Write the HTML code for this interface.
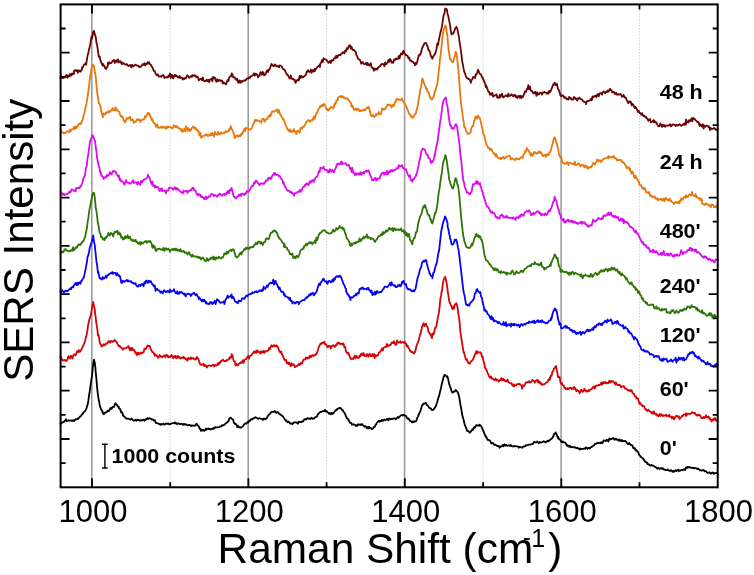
<!DOCTYPE html>
<html><head><meta charset="utf-8"><title>SERS Intensity vs Raman Shift</title>
<style>html,body{margin:0;padding:0;background:#fff}svg{display:block}</style></head>
<body>
<svg width="754" height="575" viewBox="0 0 754 575">
<rect width="754" height="575" fill="#fff"/>
<line x1="91.8" y1="4.4" x2="91.8" y2="487.3" stroke="#9c9c9c" stroke-width="1.6"/>
<line x1="248.2" y1="4.4" x2="248.2" y2="487.3" stroke="#9c9c9c" stroke-width="1.6"/>
<line x1="404.6" y1="4.4" x2="404.6" y2="487.3" stroke="#9c9c9c" stroke-width="1.6"/>
<line x1="561.1" y1="4.4" x2="561.1" y2="487.3" stroke="#9c9c9c" stroke-width="1.6"/>
<line x1="170.2" y1="4.4" x2="170.2" y2="487.3" stroke="#bcbcbc" stroke-width="1" stroke-dasharray="1 2"/>
<line x1="326.6" y1="4.4" x2="326.6" y2="487.3" stroke="#bcbcbc" stroke-width="1" stroke-dasharray="1 2"/>
<line x1="483.1" y1="4.4" x2="483.1" y2="487.3" stroke="#bcbcbc" stroke-width="1" stroke-dasharray="1 2"/>
<line x1="639.5" y1="4.4" x2="639.5" y2="487.3" stroke="#bcbcbc" stroke-width="1" stroke-dasharray="1 2"/>
<polyline fill="none" stroke="#000000" stroke-width="1.8" stroke-linejoin="round" stroke-linecap="round" points="60.4,423.6 61.2,423.9 62.0,422.5 62.8,422.4 63.6,422.2 64.4,421.1 65.2,420.5 66.0,419.3 66.0,420.3 66.8,421.3 67.6,420.8 68.4,420.2 69.2,420.7 70.0,420.5 70.8,420.7 71.6,420.4 72.4,420.9 73.0,420.2 74.0,421.2 74.8,420.1 75.6,419.1 76.4,419.5 77.2,419.0 78.0,418.9 78.0,418.4 78.8,418.0 79.6,417.2 80.4,416.3 81.2,415.8 82.0,414.3 82.8,413.5 83.0,413.7 83.6,412.4 84.4,411.8 85.2,410.8 86.0,409.4 86.8,407.6 87.0,405.7 87.6,405.0 88.4,400.4 89.2,394.3 89.6,392.5 90.0,389.4 90.8,383.7 91.6,378.4 92.0,375.8 92.4,371.8 93.2,363.4 94.0,359.7 94.0,360.2 94.8,362.8 95.6,369.8 95.6,371.0 96.4,378.9 97.2,388.5 97.6,392.1 98.0,395.1 98.8,400.1 99.6,404.4 100.4,407.8 100.4,407.5 101.2,409.8 102.0,410.5 102.8,412.9 103.6,414.3 103.6,412.7 104.4,413.7 105.2,412.5 106.0,412.4 106.8,412.0 107.6,410.8 108.0,411.3 108.4,410.6 109.2,410.8 110.0,408.9 110.8,407.7 111.6,408.9 112.4,407.0 113.0,406.8 114.0,406.9 114.8,404.5 115.6,403.3 116.0,403.9 116.4,404.3 117.2,405.3 118.0,406.7 118.8,406.9 119.0,408.4 119.6,408.4 120.4,409.8 121.2,412.6 122.0,412.3 122.8,414.2 123.0,415.6 123.6,415.8 124.4,416.8 125.2,417.2 126.0,418.4 126.8,418.8 127.6,418.5 128.4,418.7 129.0,419.0 130.0,419.6 130.8,419.5 131.6,418.5 132.4,419.5 133.2,420.2 134.0,420.7 134.8,420.5 135.6,419.8 136.0,420.3 136.4,420.8 137.2,419.7 138.0,420.2 138.8,419.9 139.6,420.5 140.4,420.5 141.2,419.9 142.0,420.5 142.8,420.0 143.6,419.7 144.0,420.4 144.4,420.7 145.2,419.6 146.0,419.1 146.8,419.3 147.6,418.0 148.4,418.4 148.6,418.9 149.2,418.1 150.0,418.5 150.8,418.7 151.6,419.6 152.4,419.3 153.0,419.5 154.0,420.8 154.8,420.1 155.6,422.5 156.4,423.2 157.2,423.2 158.0,423.3 158.8,423.8 159.0,424.2 159.6,424.0 160.4,424.8 161.2,423.9 162.0,424.6 162.8,424.1 163.6,423.5 164.4,424.6 165.2,424.4 166.0,423.7 166.8,423.5 167.6,423.8 168.0,423.8 168.4,423.5 169.2,424.3 170.0,424.1 170.8,423.8 171.6,423.5 172.4,423.2 173.2,423.2 174.0,423.3 174.8,422.5 175.6,422.7 176.0,423.5 176.4,423.1 177.2,424.1 178.0,423.4 178.8,423.4 179.6,424.0 180.4,424.1 181.2,423.8 182.0,423.8 182.8,424.9 183.6,424.0 184.0,424.0 184.4,424.6 185.2,424.2 186.0,424.3 186.8,425.0 187.6,425.4 188.4,424.9 189.2,425.2 190.0,424.9 190.8,426.1 191.6,425.7 192.0,425.2 192.4,425.7 193.2,425.7 194.0,425.6 194.8,425.8 195.6,425.1 196.4,423.7 197.0,424.4 198.0,425.8 198.8,426.2 199.6,428.8 200.4,428.7 201.0,430.9 202.0,429.7 202.8,430.6 203.6,429.8 204.4,430.9 205.2,429.5 206.0,429.8 206.0,428.5 206.8,429.5 207.6,428.9 208.4,428.4 209.2,429.2 210.0,428.9 210.8,429.5 211.6,429.1 212.4,428.5 213.2,428.8 214.0,428.5 214.0,427.6 214.8,427.9 215.6,427.2 216.4,427.3 217.2,427.3 218.0,427.3 218.8,427.1 219.6,426.8 220.4,426.4 221.2,426.4 222.0,425.2 222.0,425.2 222.8,425.6 223.6,424.9 224.4,424.9 225.2,423.9 226.0,423.1 226.8,422.9 227.0,422.5 227.6,422.0 228.4,421.2 229.2,418.9 230.0,417.9 230.8,417.7 231.0,417.8 231.6,418.7 232.4,419.2 233.2,420.0 234.0,423.1 234.8,423.4 235.0,424.1 235.6,424.0 236.4,424.4 237.2,427.1 238.0,425.6 238.8,427.1 239.6,427.4 240.0,427.1 240.4,427.7 241.2,427.6 242.0,426.9 242.8,426.4 243.6,425.3 244.4,424.1 245.2,423.4 246.0,423.7 246.0,423.3 246.8,423.4 247.6,422.0 248.4,422.5 249.2,420.7 250.0,420.9 250.8,419.3 251.6,419.1 252.4,419.5 253.2,418.4 254.0,418.0 254.8,417.6 255.0,417.6 255.6,417.1 256.4,417.9 257.2,418.1 258.0,418.9 258.8,418.5 259.6,418.2 260.4,418.5 261.2,418.8 262.0,418.8 262.8,419.9 263.6,418.8 264.0,419.3 264.4,418.4 265.2,418.9 266.0,419.0 266.8,418.1 267.6,416.3 268.4,415.2 269.2,414.6 270.0,413.9 270.0,413.7 270.8,412.7 271.6,411.9 272.4,411.9 273.2,411.9 274.0,411.9 274.8,410.9 275.0,411.6 275.6,411.8 276.4,412.9 277.2,412.3 278.0,412.1 278.8,413.5 279.6,413.8 280.4,414.6 281.0,415.0 282.0,415.7 282.8,416.3 283.6,417.5 284.4,418.7 285.2,419.8 286.0,421.0 286.0,420.1 286.8,421.3 287.6,422.3 288.4,421.5 289.2,422.2 290.0,423.5 290.8,423.4 291.6,423.7 292.0,423.4 292.4,424.1 293.2,423.0 294.0,422.7 294.8,422.2 295.6,422.3 296.4,422.3 297.2,423.0 298.0,422.5 298.0,423.8 298.8,421.7 299.6,421.9 300.4,421.9 301.2,422.2 302.0,421.5 302.8,421.6 303.6,420.6 304.4,419.3 305.2,419.1 306.0,419.5 306.0,418.9 306.8,418.9 307.6,418.0 308.4,418.6 309.2,418.6 310.0,419.1 310.8,418.2 311.6,417.7 312.4,418.9 313.2,418.6 314.0,418.5 314.8,417.8 315.0,417.4 315.6,417.0 316.4,416.8 317.2,416.1 318.0,414.0 318.8,413.5 319.6,412.4 320.4,412.0 321.0,412.0 322.0,411.5 322.8,411.0 323.6,411.1 324.4,411.2 325.0,409.9 326.0,411.6 326.8,411.1 327.6,412.4 328.4,412.8 329.2,413.9 330.0,413.0 330.8,414.3 331.0,413.6 331.6,412.9 332.4,414.0 333.2,413.2 334.0,412.5 334.8,411.1 335.6,410.5 336.0,410.5 336.4,409.4 337.2,409.7 338.0,408.5 338.8,408.2 339.6,408.1 340.0,407.9 340.4,407.8 341.2,408.7 342.0,409.9 342.8,410.2 343.6,411.8 344.0,412.2 344.4,412.7 345.2,414.1 346.0,416.4 346.8,418.3 347.6,418.5 348.0,419.2 348.4,419.6 349.2,421.3 350.0,422.7 350.8,423.0 351.6,423.1 352.0,424.8 352.4,424.3 353.2,424.5 354.0,424.5 354.8,424.6 355.6,425.9 356.0,425.1 356.4,425.3 357.2,426.0 358.0,424.3 358.8,424.9 359.6,424.5 360.4,424.4 361.0,425.1 362.0,424.0 362.8,425.1 363.6,425.8 364.4,426.6 365.2,426.2 366.0,426.5 366.8,428.2 367.6,428.3 368.0,426.9 368.4,428.5 369.2,426.9 370.0,428.3 370.8,427.9 371.6,429.1 372.4,428.8 373.2,428.2 374.0,426.9 374.0,426.8 374.8,426.8 375.6,424.7 376.4,424.0 377.0,422.6 378.0,421.8 378.8,420.7 379.6,421.7 380.4,421.0 381.2,421.1 382.0,420.8 382.0,419.9 382.8,420.3 383.6,420.6 384.4,419.5 385.2,420.1 386.0,419.9 386.8,419.3 387.6,418.7 388.4,420.2 389.2,418.5 390.0,419.3 390.0,419.4 390.8,418.9 391.6,419.0 392.4,418.9 393.2,418.6 394.0,418.5 394.8,418.3 395.6,419.3 396.4,418.7 397.2,417.5 398.0,417.0 398.0,417.8 398.8,417.8 399.6,416.6 400.4,415.9 401.2,415.2 402.0,414.8 402.8,415.6 403.6,414.8 403.6,414.8 404.4,415.0 405.2,415.9 406.0,415.9 406.8,418.0 407.6,418.2 408.0,418.9 408.4,418.5 409.2,419.5 410.0,421.0 410.8,421.1 411.6,421.8 412.0,422.4 412.4,421.5 413.2,422.1 414.0,421.3 414.8,421.8 415.6,421.3 415.6,421.4 416.4,421.0 417.2,417.9 418.0,416.6 418.8,414.0 419.0,414.4 419.6,412.5 420.4,411.4 421.2,408.3 422.0,405.5 422.6,405.1 423.6,403.5 424.4,403.7 425.2,403.2 425.6,403.0 426.0,403.0 426.8,404.9 427.6,405.5 428.4,406.3 429.0,407.6 430.0,408.1 430.8,408.4 431.6,409.9 432.4,410.1 433.0,409.9 434.0,409.0 434.8,407.9 435.6,406.5 436.0,405.8 436.4,404.3 437.2,402.2 438.0,398.9 438.8,396.3 439.0,396.6 439.6,393.7 440.4,390.3 441.2,386.9 442.0,383.1 442.0,383.2 442.8,380.2 443.6,377.0 444.4,375.3 444.4,374.8 445.2,375.3 446.0,375.8 446.8,377.0 447.2,376.3 447.6,377.0 448.4,380.1 449.2,384.3 449.6,384.9 450.0,386.3 450.8,388.6 451.6,391.3 452.4,392.5 452.4,392.7 453.2,392.1 454.0,391.5 454.8,391.5 455.6,389.9 455.6,390.6 456.4,390.6 457.2,391.5 458.0,392.9 458.0,392.9 458.8,395.2 459.6,399.4 460.4,404.9 460.4,404.6 461.2,408.3 462.0,413.8 462.8,417.1 463.6,420.1 463.6,419.8 464.4,423.4 465.2,425.9 466.0,427.7 466.8,429.9 467.0,430.8 467.6,430.6 468.4,431.2 469.2,432.1 469.6,432.7 470.0,432.7 470.8,431.5 471.6,430.6 472.4,429.3 473.0,429.8 474.0,427.2 474.8,427.7 475.6,426.4 476.0,426.0 476.4,425.0 477.2,425.4 478.0,425.6 478.8,425.5 479.6,424.7 479.6,425.8 480.4,425.3 481.2,426.1 482.0,427.9 482.4,428.9 482.8,430.0 483.6,431.4 484.4,433.6 485.2,435.4 486.0,437.2 486.0,436.1 486.8,438.0 487.6,439.9 488.4,439.8 489.2,440.4 490.0,440.7 490.8,442.3 491.0,443.1 491.6,443.5 492.4,442.9 493.2,443.1 494.0,444.7 494.8,445.0 495.6,444.6 496.4,445.4 497.2,446.2 498.0,446.0 498.8,446.0 499.0,446.7 499.6,447.7 500.4,446.6 501.2,446.3 502.0,446.3 502.8,445.0 503.6,446.2 504.4,444.3 505.2,445.3 506.0,445.6 506.0,444.8 506.8,445.7 507.6,445.8 508.4,445.3 509.2,445.3 510.0,445.9 510.8,444.9 511.6,446.2 512.4,446.3 513.2,446.3 514.0,446.0 514.0,446.5 514.8,446.2 515.6,446.1 516.4,446.4 517.2,446.4 518.0,446.4 518.8,447.7 519.6,446.9 520.4,447.1 521.0,447.2 522.0,447.8 522.8,447.0 523.6,446.5 524.4,446.5 525.2,446.1 526.0,445.1 526.8,445.3 527.6,445.0 528.4,444.8 529.0,444.6 530.0,444.6 530.8,444.4 531.6,444.1 532.4,444.1 533.2,443.6 534.0,441.9 534.8,442.0 535.6,442.3 536.4,442.5 537.2,441.4 538.0,442.5 538.0,442.1 538.8,443.2 539.6,441.9 540.4,442.6 541.2,442.4 542.0,442.2 542.8,441.9 543.6,441.2 544.4,441.6 545.2,442.4 546.0,442.2 546.0,441.8 546.8,441.6 547.6,440.6 548.4,441.3 549.2,440.4 550.0,440.0 550.8,439.2 551.6,438.8 552.0,438.3 552.4,437.7 553.2,436.6 554.0,434.2 554.8,433.9 555.6,432.4 555.6,432.9 556.4,433.4 557.2,436.0 558.0,438.2 558.0,436.7 558.8,438.6 559.6,439.6 560.4,440.1 561.2,441.5 562.0,442.2 562.8,441.5 563.0,441.7 563.6,442.4 564.4,442.4 565.2,442.7 566.0,443.6 566.8,445.6 567.6,445.0 568.4,446.6 569.2,446.4 570.0,445.7 570.0,446.6 570.8,447.3 571.6,447.1 572.4,446.7 573.2,447.3 574.0,447.5 574.8,447.2 575.6,447.6 576.4,448.2 577.2,447.6 578.0,448.4 578.8,448.7 579.6,449.5 580.0,448.4 580.4,449.3 581.2,449.2 582.0,448.9 582.8,448.9 583.6,448.9 584.4,448.3 585.2,448.9 586.0,447.4 586.8,447.9 587.6,448.8 588.4,448.0 589.2,447.9 590.0,448.6 590.0,447.9 590.8,447.2 591.6,447.1 592.4,446.1 593.2,445.8 594.0,445.3 594.8,443.8 595.6,443.9 596.4,443.4 597.2,442.9 598.0,443.3 598.0,443.3 598.8,442.8 599.6,442.8 600.4,443.2 601.2,442.1 602.0,443.2 602.8,442.7 603.6,440.3 604.4,440.6 605.2,441.0 606.0,441.0 606.0,440.5 606.8,439.8 607.6,440.3 608.4,441.5 609.2,438.6 610.0,439.5 610.8,438.9 611.6,439.2 612.4,438.4 613.2,438.0 614.0,438.5 614.0,439.3 614.8,439.8 615.6,438.8 616.4,439.5 617.2,439.5 618.0,439.6 618.8,440.7 619.6,439.5 620.4,440.7 621.2,441.1 622.0,439.9 622.0,441.0 622.8,441.4 623.6,441.0 624.4,441.1 625.2,440.9 626.0,441.4 626.8,442.7 627.6,443.9 628.4,444.2 629.2,443.0 630.0,444.3 630.0,444.0 630.8,444.9 631.6,445.3 632.4,445.3 633.2,448.0 634.0,448.4 634.8,447.9 635.6,450.5 636.0,450.6 636.4,450.1 637.2,451.2 638.0,451.9 638.8,453.8 639.6,455.6 640.4,456.0 641.2,457.3 642.0,457.7 642.0,457.7 642.8,458.3 643.6,459.4 644.4,460.4 645.2,461.7 646.0,462.3 646.8,462.4 647.6,464.1 648.0,463.8 648.4,464.3 649.2,464.6 650.0,465.5 650.8,465.5 651.6,464.9 652.4,465.7 653.2,465.6 654.0,466.3 654.8,466.9 655.6,467.1 656.0,467.2 656.4,467.8 657.2,468.8 658.0,467.8 658.8,468.3 659.6,468.9 660.4,468.4 661.2,468.0 662.0,468.9 662.8,468.2 663.6,469.5 664.0,469.4 664.4,469.5 665.2,470.0 666.0,470.1 666.8,470.2 667.6,469.5 668.4,470.3 669.2,470.6 670.0,471.0 670.8,470.2 671.6,470.4 672.4,471.7 673.2,471.1 674.0,471.8 674.0,471.0 674.8,471.1 675.6,470.2 676.4,471.1 677.2,470.4 678.0,469.7 678.8,471.2 679.6,470.3 680.4,470.7 681.2,469.9 682.0,470.1 682.0,470.0 682.8,470.0 683.6,469.4 684.4,469.5 685.2,470.0 686.0,467.3 686.8,467.8 687.6,467.0 688.0,467.8 688.4,467.2 689.2,467.0 690.0,467.2 690.8,467.9 691.6,467.9 692.4,467.7 693.2,467.9 694.0,468.4 694.0,468.0 694.8,468.1 695.6,468.1 696.4,468.3 697.2,469.1 698.0,468.6 698.8,469.1 699.6,470.1 700.0,470.4 700.4,470.2 701.2,470.5 702.0,470.6 702.8,470.1 703.6,470.0 704.4,471.3 705.2,471.0 706.0,471.2 706.0,471.1 706.8,472.4 707.6,473.0 708.4,472.5 709.2,472.3 710.0,472.8 710.8,473.7 711.6,473.1 712.4,472.5 713.2,472.9 714.0,473.9 714.8,473.0 715.6,473.2 716.4,472.8 717.2,473.2 717.6,473.8"/>
<polyline fill="none" stroke="#d60306" stroke-width="1.8" stroke-linejoin="round" stroke-linecap="round" points="60.4,356.3 61.2,358.5 62.0,359.4 62.8,360.6 63.6,360.3 64.4,360.2 65.0,359.9 66.0,361.1 66.8,360.6 67.6,359.2 68.4,356.2 69.2,358.1 70.0,358.6 70.0,357.8 70.8,355.8 71.6,356.4 72.4,358.5 73.2,355.7 74.0,354.2 74.8,354.9 75.6,355.5 76.0,354.3 76.4,352.9 77.2,351.2 78.0,352.3 78.8,350.1 79.6,351.9 80.4,351.4 81.0,350.1 82.0,348.1 82.8,346.5 83.6,344.8 84.4,342.8 85.0,341.2 86.0,337.1 86.8,334.2 87.6,329.3 88.0,325.6 88.4,324.1 89.2,320.1 90.0,317.4 90.8,315.2 91.0,314.0 91.6,310.7 92.4,305.5 93.2,303.4 93.2,302.0 94.0,306.0 94.8,309.4 95.2,313.8 95.6,316.8 96.4,323.7 97.2,328.4 98.0,335.7 98.0,333.9 98.8,336.1 99.6,341.5 100.4,344.3 101.2,344.7 101.6,346.7 102.0,346.2 102.8,345.8 103.6,344.1 104.4,345.3 105.2,344.5 106.0,344.1 106.0,343.4 106.8,343.6 107.6,343.2 108.4,341.1 109.2,341.2 110.0,342.7 110.8,341.3 111.0,341.4 111.6,341.0 112.4,341.8 113.2,341.6 114.0,340.6 114.8,339.8 115.0,340.9 115.6,341.4 116.4,341.4 117.2,343.3 118.0,344.7 118.8,346.1 119.0,345.7 119.6,345.8 120.4,347.2 121.2,347.4 122.0,348.3 122.8,349.7 123.0,349.2 123.6,348.3 124.4,348.4 125.2,348.3 126.0,348.1 126.8,347.3 127.6,347.2 128.4,346.1 129.2,348.4 130.0,350.4 130.8,348.1 131.6,349.9 132.0,347.8 132.4,348.1 133.2,350.2 134.0,349.6 134.8,351.2 135.6,353.5 136.0,352.6 136.4,353.6 137.2,355.3 138.0,352.5 138.8,354.1 139.6,354.3 140.4,352.4 141.0,352.4 142.0,353.2 142.8,352.5 143.6,352.3 144.4,348.7 145.0,349.2 146.0,348.8 146.8,347.1 147.6,345.4 148.0,346.2 148.4,346.1 149.2,345.8 150.0,346.4 150.8,349.3 151.0,349.4 151.6,350.6 152.4,352.1 153.2,352.1 154.0,353.4 154.8,355.9 155.0,354.5 155.6,354.5 156.4,355.1 157.2,356.5 158.0,357.7 158.8,356.9 159.6,355.0 160.4,356.6 161.0,356.1 162.0,357.3 162.8,356.6 163.6,356.0 164.4,355.5 165.2,357.2 166.0,354.8 166.8,355.8 167.6,355.2 168.0,357.0 168.4,357.4 169.2,356.6 170.0,357.0 170.8,356.3 171.6,355.0 172.4,356.5 173.2,358.2 174.0,356.2 174.8,357.5 175.6,355.7 176.0,357.5 176.4,358.2 177.2,357.5 178.0,355.9 178.8,357.7 179.6,357.1 180.4,358.6 181.2,358.0 182.0,357.6 182.8,357.9 183.6,356.7 184.0,357.4 184.4,358.3 185.2,358.1 186.0,359.6 186.8,358.8 187.6,360.5 188.4,357.9 189.2,358.6 190.0,359.0 190.8,357.5 191.6,358.9 192.0,358.1 192.4,358.2 193.2,358.2 194.0,359.0 194.8,359.6 195.6,358.4 196.4,359.1 197.0,357.0 198.0,358.4 198.8,359.9 199.6,363.2 200.4,364.6 201.0,364.1 202.0,365.0 202.8,364.8 203.6,363.8 204.4,366.2 205.2,365.1 206.0,365.9 206.0,366.3 206.8,367.5 207.6,366.0 208.4,365.7 209.2,365.3 210.0,365.5 210.8,366.1 211.6,365.6 212.4,365.3 213.2,364.6 214.0,365.1 214.0,366.5 214.8,365.8 215.6,365.0 216.4,365.6 217.2,365.1 218.0,363.0 218.8,364.5 219.6,362.3 220.4,362.7 221.0,360.8 222.0,360.8 222.8,359.6 223.6,360.6 224.4,361.3 225.2,360.8 226.0,361.1 226.8,360.0 227.0,360.6 227.6,360.1 228.4,359.4 229.2,358.9 230.0,356.9 230.8,357.9 231.6,356.9 231.6,354.1 232.4,355.2 233.2,359.0 234.0,361.1 234.8,361.6 235.6,365.5 236.4,363.7 237.0,365.0 238.0,365.6 238.8,363.9 239.6,363.0 240.4,363.2 241.2,362.0 242.0,362.7 242.8,360.2 243.0,362.2 243.6,362.9 244.4,360.3 245.2,359.3 246.0,359.2 246.8,357.9 247.6,356.6 248.4,356.0 249.0,358.7 250.0,355.8 250.8,355.6 251.6,354.8 252.4,353.9 253.2,353.0 254.0,351.5 254.8,352.6 255.0,352.7 255.6,351.1 256.4,352.6 257.2,350.3 258.0,352.1 258.8,351.4 259.6,351.9 260.4,353.6 261.2,351.3 262.0,352.4 262.8,352.5 263.6,350.7 264.0,351.8 264.4,352.9 265.2,351.1 266.0,351.3 266.8,351.4 267.6,350.6 268.4,350.4 269.2,347.8 270.0,349.2 270.0,348.1 270.8,346.6 271.6,345.3 272.4,346.8 273.2,345.9 274.0,345.1 274.8,346.3 275.0,346.3 275.6,346.4 276.4,345.3 277.2,346.4 278.0,347.2 278.8,349.5 279.6,351.7 280.0,352.0 280.4,352.6 281.2,351.5 282.0,354.5 282.8,355.6 283.6,357.9 284.4,359.5 285.0,360.4 286.0,359.7 286.8,363.2 287.6,362.5 288.4,364.1 289.2,362.5 290.0,364.6 290.0,364.6 290.8,366.2 291.6,363.2 292.4,365.0 293.2,364.4 294.0,364.5 294.8,367.2 295.0,366.2 295.6,366.7 296.4,366.5 297.2,365.8 298.0,365.3 298.8,363.8 299.6,365.0 300.4,364.1 301.0,362.8 302.0,363.6 302.8,361.3 303.6,359.5 304.4,359.7 305.2,359.5 306.0,357.4 306.8,358.6 307.6,358.5 308.0,357.3 308.4,358.1 309.2,358.1 310.0,355.6 310.8,357.2 311.6,355.8 312.4,355.2 313.2,356.1 314.0,355.2 314.8,355.5 315.6,354.4 316.0,353.6 316.4,354.3 317.2,352.0 318.0,350.0 318.8,346.9 319.6,345.5 320.4,343.6 321.0,344.1 322.0,342.6 322.8,343.4 323.6,342.5 324.4,341.7 325.0,344.2 326.0,344.3 326.8,345.7 327.6,347.5 328.4,345.9 328.4,346.3 329.2,346.0 330.0,346.0 330.8,348.5 331.6,346.1 332.4,346.2 333.2,345.2 334.0,345.9 334.0,345.6 334.8,347.0 335.6,345.1 336.4,345.3 337.2,343.3 338.0,342.9 338.0,342.4 338.8,343.6 339.6,343.1 340.4,344.4 341.2,344.0 342.0,343.6 342.8,343.4 343.0,344.9 343.6,343.8 344.4,347.2 345.2,347.0 346.0,351.7 346.8,352.6 347.0,352.5 347.6,353.7 348.4,352.8 349.2,355.1 350.0,357.3 350.8,359.0 351.6,358.7 352.0,358.8 352.4,358.6 353.2,359.1 354.0,357.3 354.8,355.7 355.6,358.3 356.0,357.6 356.4,355.8 357.2,357.1 358.0,357.9 358.8,358.0 359.6,355.6 360.4,356.3 361.2,353.7 362.0,354.9 362.8,355.1 363.0,353.4 363.6,353.1 364.4,356.1 365.2,355.3 366.0,356.3 366.8,354.2 367.6,354.2 368.4,356.7 369.2,355.0 370.0,353.8 370.0,355.3 370.8,356.1 371.6,356.2 372.4,354.0 373.2,356.3 374.0,354.2 374.8,358.0 375.0,354.9 375.6,355.6 376.4,356.1 377.2,355.2 378.0,355.5 378.8,352.7 379.6,352.4 380.4,351.4 381.0,350.8 382.0,348.5 382.8,350.4 383.6,347.7 384.4,347.1 385.2,347.2 386.0,347.0 386.8,343.9 387.6,345.4 388.0,346.5 388.4,345.5 389.2,345.2 390.0,345.4 390.8,344.6 391.6,342.6 392.4,342.3 393.2,343.3 394.0,341.2 394.8,343.4 395.6,345.2 396.0,343.1 396.4,344.2 397.2,340.5 398.0,342.4 398.8,342.4 399.6,342.4 400.4,341.2 401.2,342.9 402.0,342.1 402.8,342.2 403.6,342.5 404.0,343.0 404.4,341.7 405.2,343.0 406.0,343.7 406.8,346.4 407.6,346.7 407.6,345.5 408.4,347.8 409.2,348.4 410.0,350.9 410.8,351.1 411.0,351.8 411.6,352.1 412.4,351.8 413.2,353.1 414.0,353.2 414.0,353.3 414.8,352.4 415.6,350.1 416.4,346.3 417.0,344.4 418.0,342.4 418.8,340.1 419.6,336.7 420.0,334.2 420.4,333.9 421.2,331.1 422.0,326.9 422.8,325.2 423.6,323.1 423.6,324.8 424.4,326.1 425.2,324.4 426.0,323.6 426.4,325.2 426.8,326.3 427.6,327.2 428.4,331.5 429.0,332.6 430.0,333.8 430.8,335.1 431.6,337.3 432.0,338.1 432.4,333.4 433.2,334.7 434.0,333.4 434.8,328.9 435.6,327.1 435.6,327.9 436.4,325.5 437.2,321.8 438.0,316.2 438.4,315.2 438.8,313.1 439.6,306.8 440.4,298.5 441.2,295.2 441.6,291.3 442.0,291.4 442.8,284.2 443.6,279.7 444.4,278.1 445.2,277.9 445.2,276.6 446.0,280.2 446.8,284.0 447.6,289.9 447.6,290.6 448.4,295.3 449.2,301.0 450.0,303.3 450.0,302.8 450.8,305.3 451.6,306.2 452.4,309.2 452.4,307.5 453.2,307.0 454.0,308.6 454.8,304.3 455.6,304.4 456.0,303.7 456.4,303.3 457.2,305.9 458.0,310.8 458.4,314.2 458.8,316.2 459.6,322.3 460.4,332.1 461.0,335.8 462.0,342.3 462.8,347.3 463.6,352.7 464.0,352.0 464.4,354.1 465.2,357.3 466.0,359.6 466.8,359.0 467.0,360.6 467.6,361.3 468.4,363.1 469.2,363.5 470.0,363.6 470.0,363.1 470.8,361.5 471.6,361.0 472.4,360.1 473.0,359.4 474.0,357.2 474.8,354.5 475.6,353.1 476.4,351.2 477.0,353.7 478.0,351.7 478.8,352.3 479.6,352.5 480.4,352.8 480.4,352.2 481.2,353.2 482.0,357.0 482.8,357.0 483.0,359.6 483.6,361.1 484.4,364.3 485.2,368.2 486.0,368.9 486.0,369.4 486.8,370.5 487.6,373.1 488.4,374.4 489.2,376.6 490.0,377.8 490.8,377.0 491.0,376.4 491.6,378.5 492.4,378.4 493.2,379.3 494.0,379.8 494.8,380.2 495.6,378.4 496.4,380.2 497.2,379.8 498.0,380.3 498.0,380.1 498.8,381.7 499.6,380.1 500.4,380.3 501.2,378.2 502.0,380.3 502.8,378.5 503.6,380.2 504.4,379.8 505.2,381.2 506.0,380.8 506.0,381.3 506.8,381.5 507.6,379.6 508.4,382.1 509.2,382.8 510.0,383.3 510.8,383.4 511.6,383.2 512.4,385.6 513.2,386.1 514.0,386.4 514.0,384.3 514.8,385.3 515.6,385.4 516.4,385.2 517.2,384.1 518.0,384.1 518.8,383.7 519.6,384.5 520.4,384.3 521.2,385.6 522.0,386.3 522.0,388.8 522.8,385.2 523.6,386.2 524.4,385.5 525.2,383.7 526.0,382.4 526.8,382.2 527.6,382.6 528.4,382.1 529.2,381.2 530.0,382.6 530.0,382.1 530.8,382.2 531.6,381.3 532.4,379.9 533.2,380.5 534.0,381.2 534.8,382.7 535.6,380.9 536.4,380.6 537.2,380.0 538.0,382.4 538.0,380.2 538.8,382.7 539.6,381.4 540.4,383.7 541.2,383.1 542.0,385.0 542.8,384.3 543.6,384.3 544.0,384.5 544.4,384.0 545.2,383.9 546.0,382.6 546.8,382.2 547.6,381.8 548.4,379.8 549.2,380.1 550.0,377.2 550.0,379.5 550.8,375.7 551.6,375.7 552.4,371.8 553.2,371.1 554.0,368.3 554.0,368.6 554.8,368.3 555.6,366.2 556.0,366.0 556.4,367.4 557.2,372.2 558.0,376.9 558.0,377.1 558.8,377.3 559.6,377.0 560.4,382.0 561.2,383.7 562.0,383.0 562.0,384.1 562.8,385.4 563.6,385.3 564.4,388.0 565.2,387.6 566.0,389.1 566.8,388.7 567.6,388.1 568.0,389.1 568.4,388.6 569.2,388.5 570.0,387.7 570.8,387.7 571.6,389.1 572.4,388.2 573.2,388.8 574.0,388.8 574.0,387.0 574.8,387.8 575.6,389.2 576.4,391.1 577.2,390.0 578.0,390.9 578.8,390.9 579.0,391.6 579.6,393.2 580.4,392.2 581.2,389.7 582.0,390.4 582.8,391.9 583.6,391.3 584.4,388.9 585.2,390.4 586.0,390.5 586.0,391.5 586.8,391.3 587.6,391.5 588.4,390.1 589.2,391.0 590.0,389.7 590.8,389.3 591.6,389.3 592.4,388.0 593.2,386.9 594.0,386.4 594.0,387.1 594.8,388.7 595.6,385.9 596.4,385.6 597.2,385.7 598.0,385.3 598.8,384.8 599.6,385.3 600.4,384.7 601.2,382.8 602.0,384.6 602.0,382.5 602.8,383.7 603.6,382.0 604.4,383.1 605.2,382.0 606.0,383.2 606.8,382.7 607.6,383.3 608.4,383.0 609.2,380.9 610.0,382.5 610.0,381.0 610.8,382.4 611.6,381.0 612.4,381.6 613.2,381.3 614.0,382.5 614.8,383.2 615.6,384.7 616.0,382.5 616.4,383.6 617.2,384.6 618.0,385.2 618.8,384.9 619.6,385.0 620.4,385.3 621.2,387.3 622.0,386.6 622.8,386.4 623.6,386.0 624.0,386.5 624.4,387.3 625.2,388.7 626.0,388.7 626.8,389.3 627.6,390.3 628.4,390.0 629.2,390.9 630.0,390.4 630.0,390.2 630.8,391.1 631.6,390.2 632.4,392.7 633.2,393.7 634.0,393.8 634.8,396.3 635.6,396.5 636.0,396.4 636.4,398.5 637.2,398.1 638.0,398.8 638.8,401.6 639.6,404.1 640.0,402.7 640.4,404.3 641.2,404.3 642.0,405.5 642.8,406.3 643.6,405.9 644.4,407.0 645.2,408.9 646.0,410.0 646.8,409.5 647.0,410.3 647.6,411.1 648.4,409.8 649.2,410.6 650.0,411.5 650.8,411.8 651.6,413.2 652.4,412.1 653.2,413.8 654.0,411.4 654.0,413.1 654.8,413.1 655.6,414.6 656.4,413.8 657.2,415.6 658.0,415.5 658.8,416.2 659.6,414.2 660.4,415.9 661.2,414.1 662.0,415.0 662.0,415.1 662.8,416.1 663.6,415.2 664.4,415.6 665.2,415.6 666.0,414.7 666.8,416.1 667.6,415.6 668.4,416.4 669.2,414.8 670.0,416.8 670.8,416.5 671.6,417.0 672.0,418.5 672.4,417.1 673.2,417.0 674.0,419.5 674.8,417.6 675.6,416.6 676.4,415.7 677.2,416.1 678.0,416.8 678.8,416.3 679.6,419.0 680.0,418.6 680.4,418.0 681.2,417.0 682.0,415.8 682.8,416.2 683.6,414.6 684.4,414.6 685.2,414.3 686.0,413.2 686.0,416.0 686.8,415.0 687.6,413.8 688.4,413.7 689.2,413.9 690.0,414.0 690.8,413.6 691.6,413.0 692.0,412.1 692.4,412.5 693.2,412.8 694.0,413.4 694.8,412.9 695.6,414.0 696.4,415.2 697.2,415.7 698.0,415.5 698.0,414.6 698.8,414.7 699.6,415.4 700.4,415.4 701.2,417.9 702.0,418.2 702.8,418.2 703.6,417.0 704.0,417.0 704.4,418.1 705.2,417.6 706.0,415.2 706.8,417.3 707.6,417.1 708.4,416.4 709.2,418.6 710.0,418.3 710.0,419.2 710.8,419.7 711.6,421.5 712.4,419.8 713.2,419.2 714.0,420.2 714.8,417.8 715.6,419.5 716.4,420.6 717.2,419.6 717.6,421.5"/>
<polyline fill="none" stroke="#0505f2" stroke-width="1.8" stroke-linejoin="round" stroke-linecap="round" points="60.4,291.9 61.2,292.1 62.0,290.2 62.8,291.1 63.6,292.3 64.4,292.1 65.2,290.8 66.0,290.5 66.0,290.3 66.8,291.3 67.6,291.1 68.4,290.6 69.2,289.2 70.0,289.2 70.8,287.9 71.0,289.2 71.6,287.8 72.4,286.7 73.2,287.2 74.0,285.2 74.8,284.1 75.6,282.9 76.0,283.7 76.4,285.1 77.2,282.7 78.0,284.9 78.8,282.6 79.6,282.4 80.4,283.7 81.0,281.3 82.0,280.5 82.8,278.6 83.6,278.0 84.4,275.0 85.0,272.1 86.0,267.1 86.8,262.6 87.6,256.7 88.0,256.1 88.4,254.9 89.2,251.2 90.0,246.4 90.8,245.6 91.0,243.5 91.6,242.6 92.4,238.8 93.2,237.0 93.2,235.4 94.0,241.7 94.8,245.4 95.2,249.5 95.6,253.1 96.4,260.9 97.2,266.0 98.0,273.2 98.0,271.0 98.8,274.0 99.6,278.4 100.4,278.1 101.2,279.3 102.0,278.4 102.0,279.6 102.8,277.0 103.6,278.7 104.4,278.5 105.2,277.3 106.0,275.6 106.8,277.6 107.0,275.7 107.6,275.1 108.4,275.1 109.2,273.8 110.0,273.7 110.8,272.9 111.6,273.4 112.4,272.0 113.2,273.8 114.0,272.8 114.8,272.9 115.0,273.4 115.6,272.9 116.4,275.5 117.2,273.2 118.0,275.0 118.8,276.0 119.0,275.3 119.6,275.6 120.4,278.0 121.2,282.5 122.0,282.4 122.0,283.0 122.8,280.7 123.6,281.4 124.4,281.8 125.2,280.9 126.0,280.8 126.8,279.8 127.6,281.3 128.4,280.4 129.0,281.4 130.0,281.6 130.8,281.1 131.6,282.2 132.4,283.0 133.2,282.7 134.0,283.8 134.8,283.6 135.6,283.2 136.0,284.9 136.4,285.3 137.2,286.4 138.0,286.7 138.8,285.1 139.6,284.8 140.4,286.1 141.2,284.6 142.0,283.9 142.0,283.9 142.8,284.8 143.6,286.2 144.4,282.1 145.2,283.4 146.0,280.9 146.0,281.2 146.8,280.5 147.6,282.9 148.4,282.6 149.0,280.6 150.0,282.1 150.8,281.1 151.6,282.9 152.4,284.5 153.0,284.5 154.0,286.6 154.8,285.4 155.6,290.8 156.4,289.5 157.0,288.7 158.0,290.4 158.8,290.3 159.6,290.9 160.4,292.6 161.2,291.5 162.0,292.6 162.0,292.6 162.8,293.3 163.6,290.7 164.4,290.4 165.2,291.4 166.0,292.2 166.8,292.0 167.6,290.7 168.4,291.2 169.2,292.5 170.0,291.9 170.0,289.3 170.8,291.4 171.6,291.5 172.4,291.1 173.2,290.7 174.0,289.3 174.8,291.6 175.6,292.9 176.4,293.4 177.2,291.3 178.0,293.9 178.0,293.6 178.8,293.8 179.6,291.9 180.4,292.8 181.2,292.0 182.0,292.5 182.8,293.2 183.6,294.2 184.4,293.4 185.2,295.6 186.0,296.3 186.0,294.4 186.8,294.3 187.6,293.8 188.4,293.7 189.2,294.1 190.0,294.2 190.8,296.0 191.6,294.8 192.4,293.6 193.2,293.5 194.0,293.6 194.0,292.6 194.8,294.3 195.6,295.3 196.4,294.0 197.2,295.5 198.0,296.7 198.0,296.5 198.8,299.0 199.6,297.5 200.4,299.8 201.2,300.2 202.0,301.4 202.0,299.7 202.8,299.9 203.6,301.4 204.4,299.8 205.2,301.6 206.0,303.5 206.0,301.8 206.8,303.1 207.6,303.8 208.4,303.6 209.2,304.2 210.0,303.4 210.0,302.2 210.8,302.2 211.6,302.2 212.4,304.2 213.2,303.4 214.0,302.4 214.8,300.8 215.6,304.1 216.4,301.2 217.2,299.1 218.0,300.5 218.0,299.9 218.8,300.7 219.6,302.2 220.4,302.9 221.2,302.5 222.0,302.4 222.8,302.2 223.6,301.2 224.0,301.4 224.4,304.0 225.2,300.9 226.0,298.9 226.8,298.0 227.6,295.5 228.4,297.6 229.0,296.4 230.0,296.9 230.8,296.0 231.6,294.4 232.0,298.3 232.4,296.6 233.2,296.8 234.0,298.5 234.8,300.9 235.6,302.1 236.4,301.7 236.4,301.9 237.2,302.8 238.0,303.3 238.8,300.4 239.6,300.9 240.4,301.2 241.2,301.0 242.0,298.6 242.0,298.5 242.8,298.1 243.6,298.7 244.4,298.9 245.2,297.3 246.0,295.9 246.8,295.6 247.6,296.3 248.4,294.7 249.0,294.4 250.0,294.2 250.8,293.6 251.6,293.8 252.4,292.3 253.2,292.8 254.0,292.9 254.8,291.6 255.6,291.9 256.0,292.0 256.4,291.2 257.2,292.3 258.0,291.7 258.8,291.5 259.6,290.4 260.4,290.5 261.2,291.4 262.0,289.6 262.8,290.8 263.6,286.7 264.0,287.9 264.4,288.4 265.2,288.9 266.0,287.4 266.8,285.8 267.6,286.9 268.4,284.7 269.2,283.8 270.0,283.1 270.0,283.0 270.8,282.7 271.6,283.3 272.4,283.2 273.2,279.7 274.0,284.5 274.8,281.2 275.0,282.2 275.6,281.0 276.4,284.0 277.2,284.4 278.0,287.2 278.8,287.2 279.0,289.1 279.6,287.6 280.4,290.0 281.2,291.7 282.0,292.0 282.8,291.6 283.6,292.8 284.0,295.1 284.4,293.8 285.2,296.5 286.0,296.3 286.8,296.8 287.6,297.2 288.4,298.0 289.2,299.3 290.0,300.1 290.0,297.7 290.8,301.1 291.6,300.7 292.4,303.6 293.2,302.2 294.0,302.3 294.8,302.5 295.0,303.5 295.6,303.2 296.4,302.0 297.2,302.0 298.0,301.9 298.8,304.2 299.6,302.5 300.4,301.5 301.0,301.3 302.0,300.7 302.8,300.0 303.6,300.1 304.4,300.1 305.2,298.7 306.0,298.0 306.8,297.0 307.0,297.9 307.6,296.6 308.4,296.3 309.2,294.5 310.0,295.4 310.8,293.5 311.6,294.5 312.4,292.8 313.2,293.3 314.0,295.4 314.8,293.9 315.0,293.3 315.6,293.2 316.4,291.9 317.2,289.4 318.0,286.9 318.8,284.3 319.6,283.5 320.0,285.2 320.4,283.2 321.2,282.1 322.0,281.0 322.8,279.2 323.6,279.7 323.6,278.7 324.4,280.6 325.2,281.6 326.0,281.2 326.8,283.0 327.6,283.8 328.0,281.5 328.4,282.1 329.2,280.7 330.0,281.1 330.8,282.4 331.6,281.8 332.4,279.7 333.2,281.7 334.0,280.1 334.0,278.3 334.8,279.6 335.6,277.3 336.4,276.3 337.2,276.8 338.0,276.2 338.8,276.0 339.0,277.0 339.6,275.6 340.4,276.3 341.2,277.4 342.0,279.9 342.4,280.7 342.8,281.9 343.6,284.1 344.4,285.2 345.2,287.7 346.0,288.7 346.0,291.3 346.8,292.5 347.6,294.6 348.4,294.4 349.2,296.8 350.0,297.3 350.4,300.2 350.8,297.1 351.6,297.6 352.4,297.7 353.2,297.0 354.0,295.6 354.8,295.9 355.6,294.6 356.0,293.6 356.4,295.3 357.2,294.3 358.0,292.6 358.8,293.3 359.6,289.0 360.4,288.4 361.2,289.0 362.0,288.0 362.0,287.7 362.8,287.5 363.6,289.3 364.4,288.9 365.2,288.7 366.0,289.0 366.8,289.6 367.6,287.9 368.0,288.4 368.4,287.9 369.2,290.2 370.0,290.2 370.8,292.3 371.6,290.8 372.4,295.2 373.0,293.2 374.0,294.6 374.8,291.6 375.6,294.6 376.4,292.4 377.2,291.0 378.0,292.9 378.8,292.7 379.6,292.2 380.0,291.7 380.4,292.1 381.2,292.1 382.0,291.0 382.8,289.5 383.6,289.0 384.4,286.9 385.2,286.7 386.0,286.6 386.0,286.8 386.8,287.2 387.6,287.0 388.4,285.8 389.2,284.8 390.0,282.9 390.8,285.6 391.0,284.0 391.6,282.2 392.4,284.7 393.2,285.0 394.0,285.8 394.8,285.2 395.6,287.1 396.0,286.8 396.4,287.1 397.2,286.9 398.0,285.2 398.8,285.9 399.6,284.8 400.4,286.2 401.2,285.6 402.0,281.8 402.4,282.7 402.8,282.2 403.6,280.8 404.4,283.7 405.2,284.6 406.0,284.0 406.8,287.7 407.6,288.6 408.0,289.5 408.4,289.0 409.2,289.6 410.0,289.2 410.8,290.3 411.6,291.0 412.4,291.4 413.2,290.2 413.6,290.5 414.0,291.3 414.8,290.4 415.6,288.5 416.4,284.3 417.0,280.7 418.0,276.5 418.8,274.5 419.6,271.0 420.0,269.4 420.4,268.6 421.2,267.1 422.0,262.7 422.8,262.0 423.6,260.9 423.6,260.7 424.4,261.5 425.2,260.1 426.0,260.0 426.4,260.9 426.8,263.2 427.6,266.5 428.4,269.5 429.2,271.5 429.6,273.9 430.0,273.7 430.8,275.7 431.6,276.4 432.4,276.8 432.4,278.4 433.2,273.1 434.0,272.6 434.8,269.0 435.6,266.3 436.0,264.4 436.4,264.3 437.2,260.6 438.0,255.0 438.8,251.4 439.0,251.3 439.6,246.1 440.4,238.9 441.2,231.3 442.0,227.1 442.0,228.4 442.8,223.7 443.6,221.1 444.4,218.7 445.0,216.3 446.0,218.4 446.8,220.7 447.6,223.4 447.6,226.7 448.4,229.3 449.2,234.0 450.0,236.6 450.0,238.3 450.8,240.2 451.6,244.2 452.4,244.6 453.0,244.3 454.0,242.8 454.8,239.7 455.6,240.5 456.0,239.6 456.4,240.0 457.2,242.9 458.0,248.0 458.4,248.9 458.8,251.6 459.6,258.0 460.4,264.9 461.0,270.2 462.0,278.6 462.8,285.9 463.6,292.0 464.0,293.5 464.4,294.6 465.2,299.6 466.0,304.4 466.8,305.1 467.6,305.6 467.6,305.3 468.4,304.4 469.2,305.8 470.0,303.5 470.8,302.3 471.0,302.2 471.6,301.7 472.4,300.9 473.2,299.9 474.0,298.4 474.0,298.9 474.8,293.5 475.6,293.4 476.4,290.1 477.2,289.0 477.4,290.8 478.0,290.6 478.8,291.9 479.6,292.8 480.4,292.1 481.0,296.4 482.0,298.2 482.8,303.1 483.6,305.9 484.0,307.9 484.4,310.5 485.2,309.6 486.0,311.6 486.0,310.8 486.8,311.6 487.6,314.1 488.4,314.5 489.2,315.4 490.0,317.7 490.8,319.0 491.6,316.1 492.0,319.4 492.4,319.6 493.2,318.0 494.0,321.5 494.8,320.5 495.6,320.8 496.4,321.3 497.2,322.0 498.0,323.3 498.8,322.4 499.0,321.8 499.6,322.9 500.4,323.6 501.2,324.4 502.0,324.7 502.8,324.7 503.6,322.0 504.4,325.2 505.2,324.5 506.0,322.3 506.0,325.5 506.8,326.2 507.6,325.4 508.4,324.1 509.2,325.0 510.0,324.3 510.8,326.6 511.6,323.5 512.4,325.0 513.2,325.0 514.0,325.2 514.0,323.6 514.8,325.3 515.6,324.3 516.4,324.7 517.2,325.6 518.0,324.8 518.8,324.7 519.6,327.1 520.4,325.5 521.2,324.0 522.0,324.6 522.8,325.6 523.0,324.4 523.6,324.4 524.4,324.1 525.2,324.5 526.0,323.7 526.8,323.0 527.6,322.8 528.4,323.1 529.0,321.5 530.0,322.4 530.8,322.7 531.6,321.8 532.4,321.2 533.2,322.7 534.0,320.6 534.8,323.1 535.6,322.2 536.4,321.5 537.2,320.6 538.0,321.8 538.0,320.2 538.8,322.0 539.6,321.8 540.4,320.8 541.2,322.3 542.0,320.2 542.8,321.4 543.6,322.4 544.4,322.1 545.2,323.0 546.0,323.4 546.0,323.2 546.8,322.6 547.6,323.1 548.4,321.6 549.2,320.6 550.0,320.4 550.8,320.4 551.0,317.9 551.6,318.7 552.4,314.5 553.2,311.7 554.0,310.3 554.8,308.6 555.0,308.5 555.6,310.4 556.4,310.0 557.2,313.9 558.0,318.5 558.0,318.7 558.8,321.4 559.6,324.8 560.4,323.3 561.2,328.3 561.6,328.2 562.0,328.3 562.8,328.0 563.6,327.5 564.4,326.6 565.2,325.8 566.0,326.6 566.0,327.9 566.8,326.2 567.6,327.8 568.4,328.0 569.2,328.0 570.0,329.6 570.8,330.4 571.6,329.6 572.4,331.7 573.2,330.8 574.0,330.9 574.0,332.1 574.8,331.3 575.6,333.1 576.4,334.1 577.2,332.5 578.0,333.1 578.8,333.5 579.6,332.3 580.4,331.7 581.2,335.0 582.0,333.0 582.0,333.3 582.8,331.9 583.6,332.6 584.4,333.5 585.2,332.1 586.0,331.5 586.8,330.1 587.6,329.6 588.0,330.5 588.4,331.2 589.2,329.9 590.0,331.0 590.8,329.8 591.6,329.8 592.4,328.1 593.2,330.0 594.0,327.3 594.8,326.3 595.0,327.6 595.6,327.2 596.4,325.8 597.2,324.5 598.0,325.0 598.8,323.4 599.6,323.4 600.4,324.8 601.2,323.7 602.0,323.9 602.0,325.3 602.8,323.2 603.6,322.6 604.4,322.2 605.2,320.7 606.0,321.2 606.8,322.6 607.6,319.5 608.0,321.1 608.4,321.0 609.2,320.9 610.0,320.5 610.8,319.4 611.6,320.6 612.4,324.0 613.2,323.4 614.0,323.4 614.8,321.9 615.6,321.8 616.0,322.3 616.4,323.6 617.2,320.9 618.0,321.8 618.8,324.1 619.6,324.6 620.4,325.0 621.2,325.7 622.0,325.5 622.8,326.2 623.0,325.1 623.6,328.6 624.4,328.3 625.2,326.9 626.0,327.9 626.8,328.4 627.6,329.0 628.4,332.0 629.0,331.3 630.0,333.5 630.8,333.1 631.6,334.0 632.4,336.0 633.2,337.4 634.0,339.4 634.8,337.0 635.6,338.3 636.0,338.8 636.4,339.0 637.2,340.1 638.0,342.3 638.8,344.6 639.0,344.2 639.6,345.5 640.4,346.5 641.2,349.1 642.0,349.9 642.8,350.4 643.6,349.7 644.4,351.4 645.2,350.6 646.0,351.8 646.0,351.2 646.8,351.6 647.6,351.2 648.4,352.3 649.2,352.8 650.0,354.5 650.8,353.9 651.6,354.2 652.4,354.9 653.2,355.1 654.0,356.1 654.0,357.3 654.8,356.6 655.6,356.1 656.4,355.8 657.2,356.9 658.0,356.2 658.8,356.2 659.6,358.6 660.4,360.2 661.2,360.5 662.0,359.0 662.0,360.8 662.8,361.0 663.6,358.4 664.4,359.6 665.2,359.4 666.0,358.8 666.8,359.5 667.6,362.0 668.4,361.3 669.2,361.0 670.0,360.5 670.8,360.8 671.0,359.3 671.6,360.6 672.4,361.8 673.2,360.5 674.0,360.0 674.8,359.7 675.6,357.8 676.4,362.7 677.2,359.5 678.0,360.4 678.8,357.5 679.6,358.5 680.0,359.4 680.4,358.9 681.2,357.7 682.0,358.5 682.8,360.1 683.6,357.5 684.4,360.4 685.2,359.5 686.0,359.3 686.0,359.3 686.8,357.5 687.6,356.4 688.4,354.1 689.2,354.3 690.0,353.1 690.0,352.5 690.8,353.2 691.6,352.8 692.4,351.6 693.2,353.4 694.0,352.8 694.8,356.1 695.6,355.3 696.0,356.5 696.4,357.1 697.2,356.9 698.0,358.6 698.8,356.7 699.6,357.9 700.4,359.3 701.2,360.4 702.0,361.3 702.0,360.2 702.8,360.8 703.6,360.9 704.4,362.5 705.2,362.8 706.0,364.4 706.8,364.1 707.6,362.0 708.0,363.8 708.4,364.4 709.2,363.8 710.0,363.7 710.8,365.9 711.6,365.5 712.4,366.2 713.2,366.5 714.0,366.0 714.8,365.0 715.6,365.7 716.4,363.6 717.2,365.3 717.6,364.6"/>
<polyline fill="none" stroke="#2f7606" stroke-width="1.8" stroke-linejoin="round" stroke-linecap="round" points="60.4,252.7 61.2,252.3 62.0,251.4 62.8,252.5 63.6,251.9 64.4,249.4 65.2,249.3 66.0,249.1 66.0,250.5 66.8,250.7 67.6,250.8 68.4,251.3 69.2,251.3 70.0,250.6 70.8,251.0 71.6,249.6 72.0,250.7 72.4,250.8 73.2,247.2 74.0,250.4 74.8,248.3 75.6,248.5 76.4,246.9 77.2,247.5 78.0,245.1 78.0,245.5 78.8,244.3 79.6,244.8 80.4,245.1 81.2,243.1 82.0,242.8 82.8,241.1 83.0,241.4 83.6,241.1 84.4,238.3 85.2,237.0 86.0,232.1 86.0,232.5 86.8,228.6 87.6,222.3 88.4,217.7 89.0,212.7 90.0,206.7 90.8,203.3 91.6,198.5 91.6,199.2 92.4,195.1 93.2,193.1 93.6,192.9 94.0,192.9 94.8,197.5 95.6,205.7 95.6,207.3 96.4,210.7 97.2,217.3 98.0,224.2 98.0,222.9 98.8,227.1 99.6,232.6 100.4,233.9 101.0,237.2 102.0,237.0 102.8,239.3 103.6,239.3 104.0,238.7 104.4,240.2 105.2,237.4 106.0,238.2 106.8,236.2 107.6,236.1 108.4,232.9 109.0,234.6 110.0,235.5 110.8,232.9 111.6,233.5 112.4,234.2 113.2,236.5 114.0,233.0 114.8,231.8 115.6,232.4 116.0,231.8 116.4,231.5 117.2,230.8 118.0,234.4 118.8,232.3 119.6,234.5 120.0,233.3 120.4,233.5 121.2,237.5 122.0,236.8 122.8,239.5 123.6,238.8 124.0,237.6 124.4,238.9 125.2,236.1 126.0,237.8 126.8,237.8 127.6,235.2 128.0,236.7 128.4,238.2 129.2,237.5 130.0,236.7 130.8,239.8 131.6,239.8 132.4,240.9 133.0,239.7 134.0,241.2 134.8,241.1 135.6,239.8 136.4,242.1 137.2,241.9 138.0,243.5 138.8,243.9 139.6,242.5 140.0,242.0 140.4,244.6 141.2,243.8 142.0,242.2 142.8,243.5 143.6,242.7 144.4,242.3 145.0,241.3 146.0,241.0 146.8,242.8 147.6,241.4 148.4,241.2 149.0,242.0 150.0,240.7 150.8,242.3 151.6,243.7 152.4,247.9 153.2,245.1 154.0,247.6 154.0,246.9 154.8,246.5 155.6,250.8 156.4,250.8 157.2,249.0 158.0,249.1 158.8,248.8 159.0,248.9 159.6,248.7 160.4,249.2 161.2,249.9 162.0,249.3 162.8,250.0 163.6,247.9 164.4,250.9 165.2,248.6 166.0,248.2 166.0,248.3 166.8,249.8 167.6,249.4 168.4,248.6 169.2,249.9 170.0,252.0 170.8,250.1 171.6,249.4 172.4,249.0 173.2,250.2 174.0,248.8 174.0,249.7 174.8,248.6 175.6,250.4 176.4,248.6 177.2,250.8 178.0,250.4 178.8,249.8 179.6,251.0 180.0,251.1 180.4,249.1 181.2,251.6 182.0,251.1 182.8,251.8 183.6,251.0 184.4,251.6 185.0,253.0 186.0,252.3 186.8,253.2 187.6,254.5 188.4,252.6 189.2,252.3 190.0,254.7 190.8,255.4 191.6,256.8 192.0,256.0 192.4,254.6 193.2,256.4 194.0,256.2 194.8,256.4 195.6,256.4 196.4,256.8 197.0,257.3 198.0,256.5 198.8,258.1 199.6,257.1 200.4,257.9 201.0,259.5 202.0,258.1 202.8,257.5 203.6,258.6 204.4,260.3 205.2,261.1 206.0,260.7 206.0,261.3 206.8,258.1 207.6,260.0 208.4,260.7 209.2,259.2 210.0,259.5 210.8,257.7 211.6,258.0 212.4,258.9 213.2,256.5 214.0,259.6 214.0,257.5 214.8,257.3 215.6,259.7 216.4,257.4 217.2,258.4 218.0,258.3 218.8,256.7 219.6,257.5 220.4,258.2 221.0,258.5 222.0,257.2 222.8,257.6 223.6,255.6 224.4,253.4 225.2,253.5 226.0,254.2 226.8,251.6 227.0,252.2 227.6,253.5 228.4,252.4 229.2,250.8 230.0,250.5 230.8,249.7 231.6,251.1 232.4,249.7 233.0,249.2 234.0,250.1 234.8,253.3 235.6,256.4 236.4,256.7 236.4,257.5 237.2,257.2 238.0,256.5 238.8,255.7 239.6,253.9 240.4,252.7 241.2,254.5 242.0,253.0 242.0,252.0 242.8,251.5 243.6,250.5 244.4,249.0 245.2,249.6 246.0,247.6 246.8,248.8 247.6,247.5 248.4,248.0 249.0,249.0 250.0,247.4 250.8,247.0 251.6,247.5 252.4,246.9 253.2,247.1 254.0,245.2 254.8,245.0 255.6,243.2 256.0,242.8 256.4,244.2 257.2,244.3 258.0,241.9 258.8,241.5 259.6,242.1 260.4,243.7 261.2,242.0 262.0,243.3 262.8,244.9 263.6,242.9 264.0,242.2 264.4,242.1 265.2,241.7 266.0,238.4 266.8,238.5 267.6,238.5 268.4,239.4 269.2,238.1 270.0,234.9 270.0,235.5 270.8,232.8 271.6,232.5 272.4,232.4 273.2,230.9 274.0,231.4 274.8,230.4 275.4,230.8 276.4,232.5 277.2,233.2 278.0,236.0 278.8,237.7 279.0,237.4 279.6,238.7 280.4,239.3 281.2,240.1 282.0,241.7 282.8,243.1 283.6,243.6 284.0,246.9 284.4,243.9 285.2,247.4 286.0,246.9 286.8,247.4 287.6,250.0 288.4,250.2 289.2,251.8 290.0,254.2 290.0,253.5 290.8,253.6 291.6,254.9 292.4,253.6 293.2,258.1 294.0,257.4 294.8,256.7 295.0,257.6 295.6,258.3 296.4,256.0 297.2,255.9 298.0,257.3 298.8,255.6 299.6,253.7 300.0,252.4 300.4,250.5 301.2,249.9 302.0,249.5 302.8,248.4 303.6,248.5 304.4,245.6 305.2,245.4 306.0,244.7 306.0,243.7 306.8,245.6 307.6,243.7 308.4,243.6 309.2,242.3 310.0,243.3 310.8,242.1 311.6,243.0 312.4,244.3 313.2,242.4 314.0,242.4 314.8,241.3 315.0,240.3 315.6,243.0 316.4,237.6 317.2,240.1 318.0,237.4 318.8,234.6 319.6,233.9 320.0,232.7 320.4,233.0 321.2,232.5 322.0,231.4 322.8,230.6 323.6,230.2 323.6,230.3 324.4,230.2 325.2,230.7 326.0,232.0 326.8,232.3 327.6,233.0 328.4,233.2 329.0,233.7 330.0,233.6 330.8,233.1 331.6,232.8 332.4,231.3 333.2,229.7 334.0,231.7 334.0,231.4 334.8,231.1 335.6,230.6 336.4,228.0 337.2,229.3 338.0,228.8 338.8,228.0 339.6,225.9 339.6,226.9 340.4,227.5 341.2,228.0 342.0,227.3 342.8,228.9 343.0,229.5 343.6,228.2 344.4,230.7 345.2,233.5 346.0,234.8 346.0,235.5 346.8,238.3 347.6,239.1 348.4,240.4 349.2,242.2 350.0,245.3 350.8,246.0 351.0,243.5 351.6,245.5 352.4,245.0 353.2,243.1 354.0,243.1 354.8,243.6 355.6,242.1 356.0,242.9 356.4,243.2 357.2,241.6 358.0,241.6 358.8,242.1 359.6,238.5 360.4,241.1 361.2,240.7 362.0,238.6 362.0,238.9 362.8,238.6 363.6,236.6 364.4,238.3 365.2,237.1 366.0,236.9 366.8,234.4 367.6,237.8 368.4,237.0 369.0,237.8 370.0,237.6 370.8,239.4 371.6,238.2 372.4,238.7 373.2,238.7 374.0,240.5 374.8,241.3 375.0,242.0 375.6,240.8 376.4,239.7 377.2,238.6 378.0,237.1 378.8,235.9 379.6,236.4 380.4,235.3 381.2,234.2 382.0,234.4 382.0,235.3 382.8,231.8 383.6,234.0 384.4,232.8 385.2,232.1 386.0,230.3 386.8,231.7 387.6,230.8 388.4,229.5 389.2,227.9 390.0,228.9 390.0,229.4 390.8,228.7 391.6,229.9 392.4,228.0 393.2,231.3 394.0,228.3 394.8,228.3 395.6,230.1 396.4,229.4 397.2,229.7 398.0,229.2 398.8,230.2 399.0,229.4 399.6,229.8 400.4,229.8 401.2,228.4 402.0,231.5 402.8,230.9 403.6,230.4 404.4,233.6 405.0,231.3 406.0,235.4 406.8,233.0 407.6,236.6 408.4,234.1 409.0,234.0 410.0,239.8 410.8,240.7 411.6,242.8 412.4,244.3 412.6,241.4 413.2,240.0 414.0,238.2 414.8,237.9 415.6,234.0 416.0,232.2 416.4,232.5 417.2,230.6 418.0,224.1 418.8,221.2 419.6,218.3 420.0,216.8 420.4,215.9 421.2,214.3 422.0,212.2 422.8,208.1 423.6,206.1 424.4,207.2 425.0,205.0 426.0,208.2 426.8,210.5 427.6,214.1 428.4,214.8 428.4,215.1 429.2,215.2 430.0,218.9 430.8,219.2 431.6,222.6 432.0,223.0 432.4,223.5 433.2,220.6 434.0,217.5 434.8,214.1 435.6,212.1 435.6,213.3 436.4,210.2 437.2,205.7 438.0,199.3 438.0,198.7 438.8,192.1 439.6,188.6 440.0,184.9 440.4,181.7 441.2,176.2 442.0,171.9 442.8,164.7 443.0,163.7 443.6,160.8 444.4,159.1 445.2,155.4 445.6,155.2 446.0,157.3 446.8,160.8 447.6,167.1 447.6,167.6 448.4,172.5 449.2,179.7 450.0,181.8 450.0,181.4 450.8,184.7 451.6,186.3 452.4,188.3 453.0,188.6 454.0,185.2 454.8,180.6 455.6,178.1 456.0,180.5 456.4,179.1 457.2,184.0 458.0,185.9 458.0,185.0 458.8,191.0 459.4,196.3 460.4,208.4 461.0,215.6 462.0,225.2 462.8,232.5 463.6,237.6 464.0,238.6 464.4,241.4 465.2,243.3 466.0,246.3 466.8,247.3 467.6,247.6 468.0,247.8 468.4,247.7 469.2,248.0 470.0,247.6 470.8,246.4 471.6,244.0 472.0,244.0 472.4,245.3 473.2,242.6 474.0,239.9 474.8,237.3 475.6,236.2 475.6,234.8 476.4,234.0 477.2,236.3 478.0,235.1 478.8,236.3 479.0,237.6 479.6,236.1 480.4,236.7 481.2,239.7 482.0,240.3 482.0,241.0 482.8,244.3 483.6,249.2 484.4,254.5 485.0,256.5 486.0,260.3 486.8,260.5 487.6,260.9 488.4,262.4 489.0,263.6 490.0,264.5 490.8,265.2 491.6,267.0 492.4,267.5 493.2,269.1 494.0,270.4 494.8,268.4 495.6,268.7 496.0,270.3 496.4,270.5 497.2,269.0 498.0,269.9 498.8,272.1 499.6,272.1 500.4,273.0 501.2,271.1 502.0,272.6 502.8,272.5 503.6,272.1 504.4,272.3 505.2,273.0 506.0,272.5 506.0,273.7 506.8,274.7 507.6,272.9 508.4,273.3 509.2,273.7 510.0,273.6 510.8,273.8 511.6,271.4 512.4,270.5 513.2,272.2 514.0,273.3 514.0,274.4 514.8,274.3 515.6,272.9 516.4,271.3 517.2,272.8 518.0,272.6 518.8,273.0 519.6,272.5 520.4,271.9 521.2,270.8 522.0,271.7 522.8,272.1 523.0,270.7 523.6,271.1 524.4,269.6 525.2,268.5 526.0,268.3 526.8,267.6 527.6,266.4 528.4,266.4 529.2,266.0 530.0,265.3 530.8,266.1 531.0,266.2 531.6,264.2 532.4,263.8 533.2,264.0 534.0,264.4 534.8,262.1 535.6,263.9 536.4,264.0 537.2,264.5 538.0,264.0 538.8,265.2 539.0,264.7 539.6,265.3 540.4,263.8 541.2,262.5 542.0,266.6 542.8,266.8 543.6,267.7 544.4,269.6 545.0,267.9 546.0,268.7 546.8,267.1 547.6,267.2 548.4,266.8 549.2,266.2 550.0,264.8 550.8,265.9 551.0,262.3 551.6,262.4 552.4,260.1 553.2,258.4 554.0,256.6 554.6,254.4 555.6,255.3 556.4,258.2 557.2,258.9 557.6,257.9 558.0,260.7 558.8,266.0 559.6,266.6 560.4,270.0 560.4,271.4 561.2,271.9 562.0,269.9 562.8,271.1 563.6,272.1 564.4,271.9 565.2,271.9 566.0,272.3 566.0,271.7 566.8,271.9 567.6,273.5 568.4,272.8 569.2,275.0 570.0,272.5 570.8,274.4 571.6,272.7 572.4,271.8 573.2,272.2 574.0,274.5 574.0,273.5 574.8,273.3 575.6,272.7 576.4,273.7 577.2,273.8 578.0,274.4 578.8,274.7 579.6,274.8 580.4,276.2 581.2,274.1 582.0,277.0 582.8,278.2 583.6,275.5 584.0,276.1 584.4,275.7 585.2,274.7 586.0,275.4 586.8,275.7 587.6,275.7 588.4,276.5 589.2,275.9 590.0,276.8 590.8,273.9 591.6,274.3 592.0,275.6 592.4,277.0 593.2,275.7 594.0,274.7 594.8,273.6 595.6,272.9 596.4,273.5 597.2,275.2 598.0,273.4 598.8,273.9 599.6,271.6 600.0,272.4 600.4,271.2 601.2,270.1 602.0,271.5 602.8,271.7 603.6,270.1 604.4,271.2 605.2,269.4 606.0,268.8 606.8,269.7 607.0,269.7 607.6,271.4 608.4,269.2 609.2,270.1 610.0,268.8 610.8,270.1 611.6,267.3 612.4,269.0 613.0,269.5 614.0,267.7 614.8,268.8 615.6,270.6 616.4,270.7 617.2,269.2 618.0,272.1 618.8,273.0 619.6,271.7 620.0,274.0 620.4,273.4 621.2,275.5 622.0,273.4 622.8,274.9 623.6,275.5 624.4,275.8 625.2,277.7 626.0,279.3 626.0,277.8 626.8,278.5 627.6,280.9 628.4,282.1 629.2,282.9 630.0,284.2 630.8,282.5 631.6,282.3 632.0,284.1 632.4,285.4 633.2,285.4 634.0,287.2 634.8,286.9 635.6,289.8 636.0,288.4 636.4,289.3 637.2,289.6 638.0,293.1 638.8,291.3 639.6,292.7 640.0,294.5 640.4,294.8 641.2,295.8 642.0,299.1 642.8,298.2 643.6,301.0 644.4,301.3 645.2,301.6 646.0,303.5 646.0,303.2 646.8,302.4 647.6,304.6 648.4,305.0 649.2,305.3 650.0,305.2 650.8,304.4 651.6,304.7 652.4,304.9 653.2,304.4 654.0,307.9 654.0,307.9 654.8,308.7 655.6,307.5 656.4,306.4 657.2,308.9 658.0,308.1 658.8,308.0 659.6,309.9 660.4,309.6 661.2,310.6 662.0,308.8 662.0,309.7 662.8,310.2 663.6,309.4 664.4,309.8 665.2,308.8 666.0,309.0 666.8,312.7 667.6,312.4 668.4,312.5 669.2,312.2 670.0,313.4 670.8,312.6 671.6,310.4 672.0,311.2 672.4,310.6 673.2,309.9 674.0,311.9 674.8,313.2 675.6,312.4 676.4,310.6 677.2,311.7 678.0,312.6 678.8,312.5 679.6,311.4 680.0,310.3 680.4,310.0 681.2,310.4 682.0,311.2 682.8,309.6 683.6,310.3 684.4,308.5 685.2,308.8 686.0,308.7 686.0,309.7 686.8,308.0 687.6,306.3 688.4,306.6 689.2,306.6 690.0,308.3 690.8,307.5 691.6,305.1 692.0,306.6 692.4,306.9 693.2,307.0 694.0,306.9 694.8,307.0 695.6,307.6 696.4,309.5 697.0,307.7 698.0,310.7 698.8,310.0 699.6,311.0 700.4,312.0 701.2,312.5 702.0,310.2 702.8,313.4 703.0,313.5 703.6,312.6 704.4,313.6 705.2,313.8 706.0,314.9 706.8,315.8 707.6,315.7 708.4,314.9 709.2,313.1 710.0,314.7 710.0,315.5 710.8,313.2 711.6,314.5 712.4,317.4 713.2,315.4 714.0,316.8 714.8,314.8 715.6,317.0 716.4,316.9 717.2,317.3 717.6,317.9"/>
<polyline fill="none" stroke="#dc0cf0" stroke-width="1.8" stroke-linejoin="round" stroke-linecap="round" points="60.4,192.3 61.2,192.2 62.0,193.2 62.8,194.7 63.6,193.7 64.4,195.1 65.0,194.4 66.0,194.3 66.8,194.1 67.6,193.9 68.4,193.1 69.2,191.7 70.0,192.0 70.0,192.6 70.8,191.6 71.6,189.4 72.4,189.4 73.2,190.2 74.0,190.8 74.8,190.7 75.6,191.5 76.0,188.3 76.4,188.0 77.2,188.1 78.0,188.1 78.8,187.7 79.6,188.3 80.4,185.9 81.0,186.3 82.0,183.7 82.8,181.0 83.6,177.5 84.4,177.0 85.0,174.6 86.0,167.9 86.8,165.4 87.6,157.9 88.0,156.0 88.4,154.0 89.2,147.5 90.0,141.7 90.4,140.2 90.8,139.9 91.6,137.5 92.4,135.2 93.0,135.8 94.0,138.5 94.8,140.9 95.0,141.0 95.6,146.0 96.4,151.3 97.0,157.1 98.0,163.1 98.8,166.0 99.6,168.3 100.0,172.3 100.4,171.6 101.2,174.8 102.0,176.2 102.8,176.5 103.6,179.0 104.0,177.2 104.4,178.0 105.2,177.5 106.0,177.6 106.8,174.9 107.6,176.0 108.4,175.7 109.2,174.5 110.0,172.1 110.0,173.8 110.8,173.9 111.6,174.2 112.4,172.1 113.2,170.7 114.0,171.8 114.6,171.2 115.6,171.5 116.4,173.8 117.2,174.8 118.0,176.4 118.8,175.5 119.6,180.1 120.0,178.7 120.4,179.5 121.2,181.3 122.0,181.0 122.8,182.1 123.6,182.6 124.4,184.7 125.0,183.0 126.0,180.1 126.8,182.4 127.6,182.6 128.4,183.0 129.2,182.6 130.0,183.9 130.8,183.2 131.6,182.9 132.4,181.4 133.0,180.1 134.0,183.0 134.8,182.4 135.6,182.4 136.4,182.6 137.2,184.5 138.0,181.6 138.8,183.9 139.6,183.2 140.4,184.9 141.0,180.8 142.0,182.4 142.8,181.2 143.6,179.6 144.4,179.5 145.0,179.1 146.0,178.7 146.8,178.1 147.6,176.9 148.0,174.7 148.4,176.0 149.2,177.1 150.0,179.1 150.8,182.3 151.6,184.0 152.0,181.8 152.4,181.4 153.2,186.0 154.0,185.3 154.8,187.6 155.6,185.8 156.0,187.4 156.4,186.7 157.2,187.4 158.0,187.0 158.8,188.8 159.6,191.1 160.4,189.0 161.2,189.5 162.0,188.3 162.0,191.2 162.8,190.7 163.6,190.7 164.4,190.4 165.2,191.4 166.0,193.3 166.8,190.3 167.6,190.4 168.4,190.6 169.0,188.1 170.0,187.4 170.8,187.9 171.6,187.8 172.4,188.6 173.2,189.9 174.0,188.3 174.8,187.3 175.6,188.0 175.6,189.3 176.4,189.6 177.2,188.0 178.0,189.0 178.8,190.1 179.6,190.6 180.4,191.9 181.2,192.0 182.0,192.6 182.0,192.4 182.8,193.6 183.6,190.5 184.4,191.5 185.2,191.3 186.0,191.5 186.8,190.6 187.6,193.0 188.0,192.0 188.4,191.4 189.2,190.5 190.0,190.7 190.8,189.6 191.6,190.0 192.4,187.9 193.2,187.8 193.6,187.8 194.0,190.2 194.8,190.2 195.6,190.8 196.4,193.1 197.2,194.6 198.0,193.9 198.0,195.4 198.8,195.5 199.6,194.3 200.4,194.7 201.2,197.3 202.0,196.6 202.0,196.2 202.8,197.3 203.6,197.8 204.4,199.4 205.2,197.5 206.0,199.0 206.0,196.5 206.8,197.7 207.6,198.3 208.4,196.5 209.2,196.2 210.0,196.7 210.8,194.8 211.6,193.8 212.4,194.4 213.2,195.0 214.0,196.2 214.0,195.0 214.8,195.1 215.6,195.4 216.4,196.1 217.2,196.7 218.0,195.0 218.8,195.5 219.6,193.5 220.4,194.2 221.2,195.2 222.0,195.8 222.8,194.3 223.6,194.1 224.0,194.2 224.4,195.1 225.2,193.6 226.0,194.6 226.8,192.3 227.6,193.3 228.0,190.8 228.4,192.6 229.2,193.0 230.0,189.7 230.8,190.3 231.0,190.4 231.6,187.9 232.4,191.1 233.2,194.9 234.0,196.9 234.8,197.3 235.6,198.1 236.0,198.4 236.4,197.0 237.2,196.9 238.0,196.4 238.8,194.6 239.6,195.7 240.4,194.2 241.2,195.9 242.0,193.5 242.0,193.5 242.8,194.1 243.6,194.1 244.4,195.1 245.2,193.3 246.0,193.6 246.8,190.9 247.6,190.9 248.0,191.5 248.4,191.9 249.2,190.7 250.0,189.7 250.8,187.8 251.6,186.1 252.4,186.2 253.2,185.5 254.0,182.3 254.8,183.3 255.6,181.7 256.0,180.3 256.4,180.9 257.2,181.6 258.0,183.3 258.8,184.1 259.6,185.2 260.4,183.4 261.2,183.3 262.0,183.8 262.8,183.4 263.6,184.0 264.0,184.1 264.4,182.7 265.2,182.5 266.0,180.7 266.8,180.0 267.6,180.3 268.4,177.8 269.2,178.9 270.0,177.5 270.0,177.8 270.8,179.0 271.6,177.3 272.4,175.5 273.2,174.8 274.0,173.1 274.8,174.8 275.0,172.8 275.6,174.7 276.4,175.0 277.2,174.7 278.0,175.0 278.8,176.4 279.0,176.0 279.6,175.8 280.4,177.1 281.2,179.0 282.0,179.6 282.8,180.9 283.0,183.5 283.6,182.1 284.4,185.2 285.2,186.9 286.0,187.9 286.8,189.8 287.6,190.3 288.0,190.9 288.4,190.8 289.2,190.8 290.0,192.2 290.8,191.5 291.6,193.1 292.4,192.7 293.2,194.3 294.0,195.3 294.0,195.8 294.8,193.2 295.6,193.1 296.4,192.4 297.2,192.8 298.0,191.9 298.8,191.2 299.6,191.8 300.0,189.8 300.4,191.9 301.2,190.7 302.0,189.9 302.8,187.3 303.6,186.6 304.4,186.7 305.2,184.3 306.0,184.9 306.0,184.1 306.8,183.4 307.6,184.2 308.4,185.2 309.2,182.8 310.0,181.1 310.8,182.8 311.6,180.6 312.4,181.4 313.2,179.8 314.0,181.8 314.0,180.6 314.8,179.8 315.6,177.5 316.4,177.0 317.2,176.6 318.0,174.5 318.8,171.1 319.6,172.0 320.0,170.1 320.4,167.6 321.2,167.9 322.0,168.6 322.8,168.3 323.6,166.6 323.6,167.8 324.4,169.1 325.2,170.0 326.0,169.9 326.8,170.0 327.6,170.9 328.0,172.4 328.4,170.7 329.2,172.5 330.0,169.2 330.8,170.9 331.6,171.6 332.4,169.9 333.2,171.8 334.0,171.1 334.0,172.2 334.8,169.5 335.6,168.5 336.4,166.1 337.2,163.9 338.0,164.2 338.0,163.5 338.8,163.7 339.6,164.6 340.4,162.9 341.2,161.6 342.0,164.6 342.0,161.8 342.8,163.5 343.6,163.6 344.4,163.6 345.2,163.4 346.0,163.1 346.8,165.1 347.6,165.5 348.4,165.0 349.0,165.1 350.0,169.0 350.8,168.0 351.6,172.0 352.4,168.0 353.2,172.9 354.0,172.8 354.8,175.0 355.6,174.9 356.0,173.2 356.4,174.8 357.2,174.2 358.0,173.3 358.8,174.5 359.6,174.5 360.4,172.1 361.2,174.6 362.0,172.7 362.8,173.4 363.6,172.0 364.0,173.7 364.4,172.0 365.2,171.6 366.0,170.5 366.8,171.7 367.6,171.0 368.4,170.3 369.0,171.6 370.0,174.7 370.8,176.2 371.6,178.1 372.0,180.4 372.4,179.8 373.2,180.4 374.0,179.4 374.8,177.9 375.6,179.5 376.0,178.0 376.4,180.7 377.2,179.0 378.0,179.0 378.8,178.5 379.6,178.7 380.4,176.1 381.2,174.2 382.0,173.1 382.8,173.5 383.6,172.5 384.0,173.5 384.4,174.6 385.2,172.7 386.0,174.1 386.8,170.8 387.6,174.3 388.4,173.6 389.2,171.2 390.0,172.3 390.8,170.1 391.6,170.2 392.0,171.3 392.4,169.8 393.2,171.3 394.0,170.3 394.8,169.8 395.6,169.8 396.4,168.4 397.2,168.2 398.0,168.5 398.8,165.1 399.6,166.5 400.4,166.4 401.0,166.1 402.0,165.1 402.8,168.0 403.6,167.6 404.4,169.4 405.0,169.5 406.0,169.1 406.8,171.7 407.6,173.9 408.4,175.7 409.0,176.8 410.0,175.5 410.8,180.4 411.6,180.2 412.4,181.6 412.6,180.1 413.2,178.8 414.0,179.1 414.8,177.3 415.6,176.8 416.0,175.6 416.4,174.4 417.2,171.8 418.0,167.9 418.8,164.3 419.0,162.5 419.6,160.3 420.4,157.3 421.2,151.7 422.0,150.1 422.6,148.6 423.6,149.0 424.4,149.3 425.2,150.5 426.0,153.4 426.8,154.1 427.0,154.8 427.6,154.7 428.4,157.7 429.2,158.3 430.0,159.3 430.8,163.1 431.6,162.4 432.0,161.0 432.4,162.4 433.2,161.1 434.0,158.0 434.8,154.2 435.0,155.7 435.6,150.3 436.4,146.5 437.2,143.1 438.0,138.5 438.0,137.5 438.8,132.0 439.6,126.1 440.4,120.2 441.0,117.4 442.0,108.7 442.8,103.5 443.6,100.3 443.6,100.5 444.4,99.1 445.2,98.5 445.6,97.3 446.0,98.1 446.8,104.5 447.6,106.5 447.6,107.7 448.4,114.0 449.2,120.2 450.0,124.6 450.0,125.3 450.8,125.1 451.6,128.3 452.4,128.0 453.0,128.6 454.0,128.5 454.8,125.8 455.6,125.0 456.0,124.0 456.4,125.0 457.2,127.7 458.0,133.7 458.4,136.4 458.8,139.5 459.6,145.7 460.4,155.0 461.0,158.2 462.0,168.7 462.8,177.0 463.6,181.6 464.0,182.4 464.4,185.2 465.2,187.8 466.0,189.8 466.8,192.5 467.0,192.4 467.6,192.4 468.4,193.0 469.2,194.3 470.0,193.7 470.0,194.2 470.8,192.6 471.6,191.6 472.4,187.1 473.0,184.1 474.0,184.5 474.8,183.7 475.6,183.5 476.4,180.9 477.0,183.5 478.0,181.7 478.8,184.1 479.6,183.9 480.0,183.1 480.4,185.7 481.2,187.7 482.0,190.7 482.8,192.3 483.0,194.0 483.6,196.4 484.4,198.6 485.2,201.0 486.0,204.0 486.0,203.3 486.8,206.6 487.6,206.7 488.4,207.1 489.2,208.8 490.0,210.5 490.8,212.3 491.6,212.5 492.0,211.4 492.4,212.9 493.2,213.3 494.0,212.9 494.8,214.3 495.6,216.7 496.4,217.6 497.2,216.8 498.0,218.3 498.8,218.7 499.6,218.6 500.0,216.3 500.4,215.5 501.2,215.5 502.0,214.7 502.8,215.4 503.6,217.6 504.4,217.4 505.2,216.7 506.0,217.7 506.8,215.8 507.6,217.5 508.0,217.7 508.4,217.4 509.2,218.1 510.0,217.9 510.8,217.6 511.6,217.9 512.4,218.6 513.2,217.2 514.0,218.4 514.8,219.1 515.6,219.7 516.0,217.3 516.4,218.0 517.2,217.2 518.0,217.3 518.8,218.0 519.6,215.6 520.4,216.8 521.2,214.4 522.0,215.0 522.8,214.8 523.0,215.8 523.6,215.7 524.4,212.9 525.2,212.2 526.0,211.6 526.8,210.9 527.6,211.5 528.4,211.2 529.0,210.2 530.0,211.7 530.8,214.6 531.0,215.0 531.6,215.0 532.4,213.8 533.2,212.8 534.0,214.2 534.8,213.4 535.6,212.9 536.4,212.1 537.2,211.4 538.0,211.1 538.4,212.2 538.8,211.7 539.6,213.6 540.4,212.9 541.2,215.5 542.0,214.0 542.8,214.9 543.6,214.3 544.0,214.6 544.4,215.3 545.2,213.3 546.0,214.4 546.8,215.0 547.6,214.0 548.4,211.1 549.2,210.1 550.0,211.1 550.0,211.3 550.8,209.0 551.6,207.0 552.4,204.4 553.2,201.9 554.0,201.0 554.6,197.0 555.6,199.6 556.4,200.9 557.2,205.7 557.6,205.9 558.0,208.3 558.8,209.7 559.6,214.2 560.4,214.6 561.0,218.3 562.0,218.9 562.8,220.6 563.6,218.9 564.4,222.7 565.2,222.5 566.0,221.0 566.0,221.4 566.8,221.5 567.6,219.6 568.4,220.1 569.2,221.9 570.0,220.6 570.8,221.6 571.6,220.4 572.4,222.3 573.2,221.3 574.0,221.6 574.0,222.8 574.8,222.1 575.6,222.1 576.4,223.5 577.2,222.7 578.0,223.9 578.8,223.4 579.6,223.2 580.4,221.9 581.2,222.8 582.0,223.9 582.0,221.7 582.8,222.5 583.6,222.9 584.4,222.2 585.2,224.1 586.0,224.6 586.8,224.4 587.6,226.4 588.4,225.8 589.0,226.8 590.0,225.3 590.8,225.0 591.6,225.6 592.4,222.5 593.2,219.5 594.0,221.3 594.8,221.1 595.0,221.2 595.6,221.6 596.4,220.2 597.2,220.1 598.0,218.3 598.8,217.9 599.6,218.9 600.4,219.1 601.2,219.6 602.0,218.1 602.0,217.6 602.8,218.8 603.6,215.5 604.4,215.3 605.2,216.0 606.0,215.1 606.8,215.4 607.6,213.5 608.4,212.5 608.4,214.4 609.2,214.9 610.0,213.3 610.8,212.4 611.6,215.7 612.4,215.5 613.2,216.7 614.0,216.0 614.8,217.4 615.6,216.0 616.0,216.4 616.4,217.7 617.2,217.4 618.0,217.0 618.8,219.7 619.6,220.6 620.4,220.2 621.2,218.4 622.0,220.8 622.8,218.9 623.6,223.3 624.0,219.9 624.4,222.4 625.2,222.0 626.0,221.7 626.8,221.8 627.6,223.2 628.4,223.4 629.2,225.5 630.0,227.1 630.0,227.0 630.8,226.6 631.6,227.3 632.4,228.1 633.2,228.7 634.0,230.6 634.8,232.0 635.6,231.0 636.0,230.4 636.4,233.5 637.2,233.2 638.0,234.0 638.8,235.6 639.0,236.1 639.6,237.8 640.4,239.1 641.2,240.8 642.0,242.5 642.8,241.7 643.6,244.9 644.4,244.5 645.2,244.6 646.0,246.5 646.0,245.1 646.8,247.3 647.6,248.1 648.4,247.5 649.2,248.9 650.0,252.0 650.8,251.0 651.6,250.8 652.4,252.0 653.2,249.5 654.0,252.2 654.0,251.8 654.8,251.1 655.6,252.5 656.4,251.1 657.2,252.7 658.0,253.5 658.8,254.9 659.6,254.7 660.4,253.7 661.2,252.7 662.0,255.1 662.0,253.3 662.8,253.8 663.6,250.9 664.4,255.0 665.2,255.2 666.0,254.6 666.8,253.7 667.6,255.4 668.4,253.8 669.2,255.7 670.0,254.4 670.0,254.3 670.8,253.3 671.6,254.2 672.4,256.3 673.2,255.7 674.0,256.5 674.0,254.8 674.8,256.1 675.6,254.6 676.4,255.5 677.2,254.3 678.0,255.7 678.8,255.6 679.6,255.3 680.0,254.1 680.4,253.8 681.2,250.2 682.0,252.6 682.8,254.2 683.6,252.9 684.4,251.9 685.2,252.4 686.0,252.5 686.0,252.4 686.8,251.5 687.6,250.1 688.4,249.9 689.2,250.4 690.0,247.6 690.8,248.6 691.6,251.1 692.0,248.4 692.4,249.7 693.2,250.1 694.0,249.6 694.8,251.5 695.6,249.6 696.0,249.4 696.4,251.0 697.2,252.6 698.0,251.9 698.8,252.4 699.6,253.5 700.4,254.3 701.2,255.3 702.0,256.4 702.0,256.6 702.8,256.6 703.6,257.8 704.4,256.1 705.2,257.5 706.0,256.7 706.8,258.3 707.6,258.7 708.0,259.6 708.4,259.9 709.2,258.7 710.0,259.2 710.8,259.6 711.6,261.0 712.4,259.9 713.2,260.4 714.0,262.1 714.8,262.3 715.6,259.3 716.4,259.7 717.2,260.0 717.6,260.1"/>
<polyline fill="none" stroke="#e6780e" stroke-width="1.8" stroke-linejoin="round" stroke-linecap="round" points="60.4,129.3 61.2,131.4 62.0,132.2 62.8,132.3 63.6,133.4 64.4,132.6 65.0,133.0 66.0,132.8 66.8,131.4 67.6,131.4 68.4,131.6 69.2,132.3 70.0,129.3 70.0,131.2 70.8,131.2 71.6,129.5 72.4,129.5 73.2,129.0 74.0,126.9 74.8,129.1 75.6,126.8 76.0,126.3 76.4,128.2 77.2,126.9 78.0,125.7 78.8,124.0 79.6,124.0 80.4,123.2 81.0,124.0 82.0,121.3 82.8,119.5 83.6,115.1 84.4,113.0 85.0,109.8 86.0,105.7 86.8,101.3 87.0,100.4 87.6,96.6 88.4,91.0 89.0,87.1 90.0,76.9 90.8,73.5 91.6,68.0 91.6,68.2 92.4,64.6 93.2,65.3 93.2,65.7 94.0,66.1 94.8,72.5 95.0,72.1 95.6,75.6 96.4,84.7 97.2,92.3 98.0,98.0 98.0,97.4 98.8,103.1 99.6,104.2 100.4,106.2 101.0,110.8 102.0,113.8 102.8,117.3 103.6,113.5 104.0,114.2 104.4,114.7 105.2,114.4 106.0,112.4 106.8,112.7 107.6,112.4 108.4,111.0 109.2,112.5 110.0,111.6 110.0,111.5 110.8,110.4 111.6,110.5 112.4,108.2 113.2,110.0 114.0,109.0 114.6,110.2 115.6,107.3 116.4,110.6 117.2,109.8 118.0,111.1 118.8,111.6 119.6,112.4 120.0,114.6 120.4,115.4 121.2,116.7 122.0,116.0 122.8,117.3 123.6,120.2 124.4,120.9 125.0,122.4 126.0,120.2 126.8,117.9 127.6,118.8 128.4,118.3 129.0,117.8 130.0,116.7 130.8,120.3 131.6,120.1 132.4,119.3 133.2,120.5 134.0,122.9 134.0,121.4 134.8,122.2 135.6,122.0 136.4,120.8 137.2,119.0 138.0,119.9 138.8,120.2 139.6,119.2 140.0,120.9 140.4,122.0 141.2,120.4 142.0,119.8 142.8,119.4 143.6,119.8 144.4,118.4 145.0,116.1 146.0,117.1 146.8,114.9 147.6,114.3 148.0,112.8 148.4,114.3 149.2,113.4 150.0,115.5 150.8,116.9 151.6,120.0 152.0,118.7 152.4,119.9 153.2,122.0 154.0,123.1 154.8,123.6 155.6,125.2 156.0,126.7 156.4,124.7 157.2,124.5 158.0,127.9 158.8,127.7 159.6,127.5 160.4,127.6 161.2,126.8 162.0,126.2 162.0,127.6 162.8,127.8 163.6,127.5 164.4,126.6 165.2,128.1 166.0,128.8 166.8,126.3 167.6,127.9 168.4,126.5 169.0,126.8 170.0,127.3 170.8,127.1 171.6,128.0 172.4,128.5 173.2,127.1 174.0,125.3 174.8,126.3 175.6,127.0 175.6,126.0 176.4,127.2 177.2,126.2 178.0,127.9 178.8,128.4 179.6,128.3 180.4,129.2 181.2,130.5 182.0,129.0 182.0,131.8 182.8,131.1 183.6,131.4 184.4,128.7 185.2,131.1 186.0,126.4 186.8,128.4 187.6,131.0 188.0,127.9 188.4,129.7 189.2,129.0 190.0,131.3 190.8,130.3 191.6,128.2 192.4,127.8 193.2,126.3 193.6,126.4 194.0,127.8 194.8,128.8 195.6,127.7 196.4,130.0 197.2,129.9 198.0,131.4 198.0,130.5 198.8,131.6 199.6,135.6 200.4,133.0 201.2,137.8 202.0,137.1 202.0,136.7 202.8,136.2 203.6,135.9 204.4,135.5 205.2,135.7 206.0,134.3 206.0,134.5 206.8,134.7 207.6,135.9 208.4,135.0 209.2,135.9 210.0,134.9 210.8,133.5 211.6,135.4 212.4,133.0 213.2,135.2 214.0,135.5 214.0,136.8 214.8,132.0 215.6,133.8 216.4,134.4 217.2,134.8 218.0,131.6 218.8,133.8 219.6,134.5 220.4,133.2 221.2,132.2 222.0,133.5 222.8,133.4 223.6,133.2 224.0,132.9 224.4,132.2 225.2,132.8 226.0,131.0 226.8,131.8 227.6,131.7 228.0,131.7 228.4,131.3 229.2,129.0 230.0,129.3 230.8,126.0 231.0,127.7 231.6,129.1 232.4,130.1 233.2,131.7 234.0,134.6 234.8,138.2 235.6,135.8 236.0,135.8 236.4,136.5 237.2,135.2 238.0,136.1 238.8,136.7 239.6,135.2 240.4,136.1 241.2,134.3 242.0,132.9 242.0,134.5 242.8,132.1 243.6,131.1 244.4,128.7 245.0,131.1 246.0,127.8 246.8,128.4 247.6,128.3 248.4,128.5 249.0,129.9 250.0,129.6 250.8,128.8 251.6,128.5 252.4,126.5 253.2,124.2 254.0,123.3 254.8,119.9 255.6,121.3 256.0,120.2 256.4,119.9 257.2,121.0 258.0,120.7 258.8,120.5 259.6,121.4 260.4,121.7 261.2,122.7 262.0,119.5 262.8,118.6 263.6,118.9 264.0,119.6 264.4,121.6 265.2,121.0 266.0,119.2 266.8,119.3 267.6,118.5 268.4,116.2 269.2,116.5 270.0,114.8 270.0,116.4 270.8,115.7 271.6,112.5 272.4,111.3 273.2,111.6 274.0,111.2 274.8,111.6 275.0,111.1 275.6,110.3 276.4,110.5 277.2,109.2 278.0,112.8 278.8,111.9 279.0,110.2 279.6,113.1 280.4,114.7 281.2,116.0 282.0,117.5 282.8,118.3 283.0,119.7 283.6,119.1 284.4,121.4 285.2,124.3 286.0,125.7 286.8,127.8 287.6,129.2 288.0,129.6 288.4,130.6 289.2,131.3 290.0,129.3 290.8,132.2 291.6,131.2 292.4,131.6 293.2,130.6 294.0,129.1 294.0,131.4 294.8,131.6 295.6,131.5 296.4,134.2 297.2,131.2 298.0,130.5 298.8,131.1 299.6,132.7 300.0,130.8 300.4,128.7 301.2,127.6 302.0,128.9 302.8,127.0 303.6,127.0 304.4,125.4 305.2,125.0 306.0,122.5 306.0,122.5 306.8,121.7 307.6,120.6 308.4,120.1 309.2,120.8 310.0,122.0 310.8,120.4 311.6,120.1 312.4,120.4 313.2,118.2 314.0,118.9 314.0,116.5 314.8,118.8 315.6,115.2 316.4,113.1 317.2,112.5 318.0,110.5 318.8,108.2 319.6,107.8 320.0,106.2 320.4,107.2 321.2,106.3 322.0,104.6 322.8,106.2 323.6,104.0 323.6,105.2 324.4,104.4 325.2,105.3 326.0,108.1 326.8,109.8 327.6,109.0 328.0,110.7 328.4,110.1 329.2,109.4 330.0,108.7 330.8,106.9 331.6,107.1 332.4,107.3 333.2,108.5 334.0,106.4 334.0,106.7 334.8,103.3 335.6,104.0 336.4,100.5 337.2,99.9 338.0,99.9 338.0,97.4 338.8,96.9 339.6,96.3 340.4,96.3 341.2,97.5 342.0,96.4 342.0,96.0 342.8,96.3 343.6,97.8 344.4,97.4 345.2,98.8 346.0,98.2 346.8,98.7 347.6,98.3 348.4,100.2 349.0,100.2 350.0,101.9 350.8,102.5 351.6,106.5 352.4,105.8 353.2,107.5 354.0,110.0 354.8,109.2 355.6,109.4 356.0,108.9 356.4,110.1 357.2,108.5 358.0,109.7 358.8,109.2 359.6,111.2 360.4,110.3 361.2,111.0 362.0,110.7 362.8,110.7 363.6,109.4 364.0,109.4 364.4,109.3 365.2,110.4 366.0,108.9 366.8,107.9 367.6,107.2 368.0,108.1 368.4,106.6 369.2,108.5 370.0,111.2 370.8,115.0 371.6,116.2 372.0,116.0 372.4,115.0 373.2,115.2 374.0,117.2 374.8,116.4 375.6,115.8 376.0,114.2 376.4,115.6 377.2,114.1 378.0,114.3 378.8,112.0 379.6,114.0 380.4,114.4 381.2,113.3 382.0,108.5 382.8,108.8 383.6,109.6 384.0,109.6 384.4,108.6 385.2,109.1 386.0,107.7 386.8,106.1 387.6,104.5 388.4,105.0 389.2,104.9 390.0,104.4 390.8,106.0 391.6,107.5 392.0,106.3 392.4,105.4 393.2,104.6 394.0,106.0 394.8,102.2 395.6,102.1 396.4,99.0 397.2,98.6 398.0,99.9 398.8,99.4 399.6,99.9 400.4,99.6 400.4,99.4 401.2,100.0 402.0,98.5 402.8,101.1 403.6,101.8 404.4,103.3 405.0,104.6 406.0,105.5 406.8,107.7 407.6,109.6 408.4,111.9 409.0,113.8 410.0,114.4 410.8,116.3 411.6,116.9 412.4,116.5 412.4,117.9 413.2,117.1 414.0,116.2 414.8,114.2 415.6,114.1 416.0,112.7 416.4,111.2 417.2,107.8 418.0,105.2 418.8,97.7 419.0,97.6 419.6,95.0 420.4,88.9 421.2,86.4 422.0,80.3 422.6,78.5 423.6,82.2 424.4,84.0 425.2,85.9 426.0,88.7 426.8,88.2 427.0,89.8 427.6,91.9 428.4,92.0 429.2,94.4 430.0,97.3 430.8,98.2 431.6,99.6 432.0,99.6 432.4,99.2 433.2,97.1 434.0,95.5 434.8,91.1 435.6,90.7 436.0,88.3 436.4,86.7 437.2,84.4 438.0,78.1 438.8,70.7 439.6,64.0 440.0,58.6 440.4,56.8 441.2,50.0 442.0,41.1 442.8,34.0 443.6,30.2 443.6,30.4 444.4,27.9 445.2,25.3 445.6,27.4 446.0,26.6 446.8,32.0 447.6,37.6 447.6,39.6 448.4,48.1 449.2,53.7 450.0,59.0 450.0,57.9 450.8,59.5 451.6,61.4 452.4,61.6 453.0,62.3 454.0,58.5 454.8,56.3 455.6,51.6 456.0,55.5 456.4,52.7 457.2,59.1 458.0,67.4 458.0,65.8 458.8,74.7 459.6,86.5 460.0,91.3 460.4,96.6 461.2,105.0 462.0,110.3 462.0,109.9 462.8,116.9 463.6,121.5 464.4,127.4 465.0,127.1 466.0,130.6 466.8,132.3 467.6,133.8 468.4,133.9 469.0,133.7 470.0,133.1 470.8,131.9 471.6,127.2 472.0,127.0 472.4,126.2 473.2,126.2 474.0,121.0 474.8,119.9 475.0,118.2 475.6,116.4 476.4,117.3 477.2,118.8 478.0,115.5 478.4,117.0 478.8,117.3 479.6,117.4 480.4,120.3 481.0,122.4 482.0,127.4 482.8,131.1 483.6,134.7 484.0,134.7 484.4,135.8 485.2,140.0 486.0,142.5 486.8,145.4 487.6,146.3 488.0,147.7 488.4,148.2 489.2,147.9 490.0,149.8 490.8,148.7 491.6,149.4 492.4,151.2 493.2,152.7 494.0,153.1 494.0,154.1 494.8,153.9 495.6,156.6 496.4,154.0 497.2,156.7 498.0,158.0 498.8,158.1 499.6,158.5 500.0,158.7 500.4,157.7 501.2,159.1 502.0,157.7 502.8,158.0 503.6,156.8 504.4,158.5 505.2,158.4 506.0,157.3 506.8,156.9 507.6,156.3 508.0,156.3 508.4,156.0 509.2,155.6 510.0,156.4 510.8,159.6 511.6,158.3 512.4,158.1 513.2,159.4 514.0,158.9 514.8,160.1 515.6,159.4 516.0,159.5 516.4,158.2 517.2,158.7 518.0,159.0 518.8,159.5 519.6,159.2 520.4,157.6 521.2,157.9 522.0,156.9 522.8,157.8 523.0,156.0 523.6,154.2 524.4,153.9 525.2,151.1 526.0,151.9 526.8,148.0 527.6,150.1 528.4,150.0 529.0,151.5 530.0,153.2 530.8,155.6 531.0,154.7 531.6,153.4 532.4,155.7 533.2,154.9 534.0,152.3 534.8,151.9 535.6,153.4 536.4,153.1 537.2,153.7 538.0,152.6 538.4,152.8 538.8,151.5 539.6,151.4 540.4,153.0 541.2,152.3 542.0,154.6 542.8,156.1 543.6,155.8 544.0,154.8 544.4,154.8 545.2,154.8 546.0,156.9 546.8,154.1 547.6,154.4 548.4,155.4 549.2,153.0 550.0,151.8 550.0,152.5 550.8,150.5 551.6,147.1 552.4,144.3 553.2,140.9 554.0,138.2 554.6,137.2 555.6,139.4 556.4,143.1 557.2,144.3 557.6,147.4 558.0,148.1 558.8,153.0 559.6,156.2 560.4,157.2 561.0,156.2 562.0,161.6 562.8,162.9 563.6,162.4 564.4,163.8 565.2,163.5 566.0,163.7 566.0,163.6 566.8,162.8 567.6,162.1 568.4,165.1 569.2,163.1 570.0,162.7 570.8,162.8 571.6,163.5 572.4,163.8 573.2,163.9 574.0,163.1 574.0,164.7 574.8,161.7 575.6,165.1 576.4,164.9 577.2,164.5 578.0,163.4 578.8,163.8 579.6,164.4 580.4,166.6 581.2,165.3 582.0,164.7 582.0,164.8 582.8,165.6 583.6,165.1 584.4,167.7 585.2,165.5 586.0,166.8 586.8,166.1 587.6,168.8 588.0,167.2 588.4,168.2 589.2,167.8 590.0,166.8 590.8,167.4 591.6,166.6 592.4,164.9 593.2,162.8 594.0,163.4 594.0,163.3 594.8,164.5 595.6,162.9 596.4,162.3 597.2,159.5 598.0,160.1 598.8,161.5 599.6,160.1 600.4,160.6 601.2,162.2 602.0,160.3 602.0,160.6 602.8,160.1 603.6,158.8 604.4,158.8 605.2,158.3 606.0,158.0 606.8,158.2 607.6,157.1 608.4,158.2 608.4,156.0 609.2,157.2 610.0,156.6 610.8,157.5 611.6,157.1 612.4,157.1 613.2,156.0 614.0,156.4 614.8,158.4 615.6,158.1 616.0,158.1 616.4,158.8 617.2,160.5 618.0,159.8 618.8,160.1 619.6,159.8 620.4,160.3 621.2,159.9 622.0,162.1 622.8,161.6 623.6,163.0 624.0,163.0 624.4,163.3 625.2,164.9 626.0,166.1 626.8,168.2 627.6,167.6 628.4,167.0 629.2,168.9 630.0,170.5 630.0,168.3 630.8,171.7 631.6,173.7 632.4,171.7 633.2,173.1 634.0,176.3 634.8,178.1 635.6,175.6 636.0,178.1 636.4,177.7 637.2,179.5 638.0,180.2 638.8,182.5 639.0,181.6 639.6,184.8 640.4,185.6 641.2,185.1 642.0,187.6 642.8,188.8 643.6,187.5 644.4,189.6 645.2,188.7 646.0,191.3 646.0,192.4 646.8,192.1 647.6,192.5 648.4,193.1 649.2,192.0 650.0,195.8 650.8,195.1 651.6,196.8 652.4,196.1 653.2,197.2 654.0,197.3 654.0,197.3 654.8,196.5 655.6,198.6 656.4,198.8 657.2,198.1 658.0,200.3 658.8,199.2 659.6,199.7 660.4,198.7 661.2,199.4 662.0,200.4 662.0,199.0 662.8,200.3 663.6,198.8 664.4,201.5 665.2,198.9 666.0,197.9 666.8,199.2 667.6,200.2 668.4,199.3 669.2,200.7 670.0,198.8 670.0,199.9 670.8,200.4 671.6,201.8 672.4,202.2 673.2,202.9 674.0,204.1 674.0,202.8 674.8,202.6 675.6,201.9 676.4,202.9 677.2,202.4 678.0,202.9 678.8,201.4 679.6,203.1 680.0,200.9 680.4,201.0 681.2,198.3 682.0,199.9 682.8,199.7 683.6,197.7 684.4,197.0 685.2,196.0 686.0,197.7 686.0,195.4 686.8,196.3 687.6,197.2 688.4,195.6 689.2,194.5 690.0,194.3 690.8,195.3 691.6,195.0 692.0,191.8 692.4,195.1 693.2,195.2 694.0,195.7 694.8,196.4 695.6,194.0 696.0,195.5 696.4,197.3 697.2,197.0 698.0,197.9 698.8,198.6 699.6,197.9 700.4,200.2 701.2,198.8 702.0,200.0 702.0,203.4 702.8,204.2 703.6,204.1 704.4,204.8 705.2,204.8 706.0,203.1 706.8,204.4 707.6,204.2 708.0,204.9 708.4,204.6 709.2,205.8 710.0,205.4 710.8,207.3 711.6,204.4 712.4,204.7 713.2,204.8 714.0,207.1 714.8,206.6 715.6,207.3 716.4,205.4 717.2,207.6 717.6,207.5"/>
<polyline fill="none" stroke="#6a0404" stroke-width="1.8" stroke-linejoin="round" stroke-linecap="round" points="60.4,78.2 61.2,76.2 62.0,76.9 62.8,78.2 63.6,77.9 64.4,76.9 65.2,76.8 66.0,75.1 66.0,77.0 66.8,75.0 67.6,77.8 68.4,75.7 69.2,76.0 70.0,74.0 70.8,75.9 71.6,73.7 72.4,74.6 73.2,73.1 74.0,73.8 74.0,71.0 74.8,70.4 75.6,70.1 76.4,71.1 77.2,70.1 78.0,72.8 78.8,70.4 79.6,70.8 80.4,71.7 81.2,70.4 82.0,69.4 82.0,67.4 82.8,67.3 83.6,65.5 84.4,64.2 85.2,64.2 86.0,62.8 86.0,64.8 86.8,60.3 87.6,55.4 88.4,52.8 89.0,49.4 90.0,45.7 90.8,40.8 91.6,36.1 92.0,38.7 92.4,36.5 93.2,31.8 94.0,31.2 94.0,30.8 94.8,34.4 95.6,36.3 96.0,38.8 96.4,42.5 97.2,45.6 98.0,51.3 98.8,56.8 99.0,56.8 99.6,56.5 100.4,60.4 101.2,62.4 102.0,64.4 102.8,65.8 103.0,64.0 103.6,65.2 104.4,66.1 105.2,68.3 105.4,68.3 106.0,69.1 106.8,67.5 107.6,66.4 108.0,62.6 108.4,64.2 109.2,62.3 110.0,63.5 110.8,63.2 111.6,62.5 112.4,61.3 113.2,60.5 114.0,59.9 114.8,62.9 115.6,61.7 116.4,60.2 117.0,61.8 118.0,59.4 118.8,62.5 119.6,61.5 120.4,61.1 121.2,63.2 122.0,62.3 122.0,64.3 122.8,63.1 123.6,63.1 124.4,64.1 125.2,64.6 126.0,64.6 126.8,64.0 127.6,65.3 128.4,66.0 129.2,65.5 130.0,64.9 130.8,66.5 131.6,67.3 132.0,64.8 132.4,64.9 133.2,66.2 134.0,65.7 134.8,65.1 135.6,64.6 136.4,65.2 137.2,65.6 138.0,65.7 138.8,66.2 139.6,67.4 140.0,66.6 140.4,66.8 141.2,66.4 142.0,65.2 142.8,64.1 143.6,64.8 144.4,63.3 145.2,65.5 146.0,63.6 146.8,64.0 147.6,62.3 148.4,63.6 149.0,62.1 150.0,64.4 150.8,64.6 151.6,66.5 152.4,67.1 153.0,69.2 154.0,71.0 154.8,71.2 155.6,73.5 156.4,74.6 157.2,75.2 158.0,74.4 158.0,74.6 158.8,76.7 159.6,76.5 160.4,76.2 161.2,76.9 162.0,75.4 162.8,75.5 163.6,75.2 164.4,78.0 165.2,77.3 166.0,77.6 166.8,77.1 167.6,77.3 168.0,77.3 168.4,75.7 169.2,76.4 170.0,73.5 170.8,78.0 171.6,75.0 172.4,75.4 173.2,78.4 174.0,76.1 174.8,74.7 175.6,76.1 176.0,75.4 176.4,76.3 177.2,76.1 178.0,77.6 178.8,77.6 179.6,75.9 180.4,78.0 181.2,77.5 182.0,77.9 182.8,79.5 183.6,78.4 184.0,78.2 184.4,79.0 185.2,78.1 186.0,78.3 186.8,76.2 187.6,75.3 188.4,76.5 189.2,77.9 190.0,77.1 190.8,76.3 191.6,75.7 192.0,76.9 192.4,75.1 193.2,75.5 194.0,76.0 194.8,75.2 195.6,75.5 196.4,77.3 197.2,76.6 198.0,77.2 198.8,80.4 199.6,79.6 200.0,78.8 200.4,78.8 201.2,78.8 202.0,80.2 202.8,77.3 203.6,80.5 204.4,81.2 205.2,81.1 206.0,80.4 206.0,81.0 206.8,79.6 207.6,81.1 208.4,79.8 209.2,82.2 210.0,79.7 210.8,79.2 211.6,78.5 212.4,81.3 213.2,76.9 214.0,77.8 214.0,78.1 214.8,77.6 215.6,80.2 216.4,81.8 217.2,79.2 218.0,80.3 218.0,81.2 218.8,80.5 219.6,79.9 220.4,80.9 221.2,80.6 222.0,80.7 222.8,83.4 223.6,82.3 224.4,83.4 225.2,83.5 226.0,83.5 226.0,84.4 226.8,82.4 227.6,80.0 228.4,81.0 229.2,77.6 230.0,76.4 230.8,76.6 231.6,74.3 231.6,73.4 232.4,74.1 233.2,77.4 234.0,77.2 234.8,77.3 235.6,79.3 236.0,79.7 236.4,79.9 237.2,78.7 238.0,82.2 238.8,82.8 239.6,80.3 240.4,82.8 241.2,81.0 242.0,81.9 242.0,82.1 242.8,80.7 243.6,80.7 244.4,80.2 245.2,80.9 246.0,79.6 246.8,78.7 247.6,78.3 248.0,78.7 248.4,78.7 249.2,77.3 250.0,77.8 250.8,76.3 251.6,76.0 252.4,75.6 253.2,74.9 254.0,73.4 254.0,74.6 254.8,75.6 255.6,73.7 256.4,74.1 257.2,74.5 258.0,77.3 258.8,75.7 259.6,75.9 260.4,72.1 261.2,72.6 262.0,74.7 262.8,72.0 263.6,72.8 264.0,75.4 264.4,74.3 265.2,74.8 266.0,73.3 266.8,70.7 267.6,70.3 268.0,72.0 268.4,69.7 269.2,70.3 270.0,68.2 270.8,65.9 271.6,63.9 272.4,65.2 273.0,65.8 274.0,66.1 274.8,64.4 275.6,65.0 276.4,66.3 277.2,66.3 278.0,66.0 278.8,66.3 279.0,67.4 279.6,65.3 280.4,65.6 281.2,66.1 282.0,67.1 282.8,68.9 283.6,69.2 284.0,69.2 284.4,69.9 285.2,70.9 286.0,72.8 286.8,74.5 287.6,74.9 288.4,76.0 289.0,77.5 290.0,78.5 290.8,75.4 291.6,78.5 292.4,79.0 293.2,78.9 294.0,80.0 294.8,79.7 295.0,81.5 295.6,82.8 296.4,81.3 297.2,80.1 298.0,79.4 298.8,80.6 299.6,76.0 300.4,78.0 301.2,75.8 302.0,76.7 302.0,77.4 302.8,77.0 303.6,77.0 304.4,76.1 305.2,75.4 306.0,74.8 306.8,71.5 307.6,71.6 308.0,70.2 308.4,71.5 309.2,72.0 310.0,71.7 310.8,69.5 311.6,72.9 312.4,70.4 313.2,70.0 314.0,71.5 314.8,71.2 315.0,68.7 315.6,69.6 316.4,68.4 317.2,67.1 318.0,66.7 318.8,65.6 319.6,65.1 320.0,67.0 320.4,63.2 321.2,62.8 322.0,60.0 322.8,62.0 323.6,58.2 324.0,59.0 324.4,59.2 325.2,59.3 326.0,59.5 326.8,60.4 327.6,61.5 328.4,62.9 329.0,62.3 330.0,60.9 330.8,63.0 331.6,60.2 332.4,60.8 333.2,60.0 334.0,58.3 334.8,58.4 335.6,56.5 336.0,57.8 336.4,55.7 337.2,57.6 338.0,55.9 338.8,54.8 339.6,54.9 340.4,55.3 341.2,53.6 342.0,53.5 342.8,52.3 343.6,52.9 344.0,52.3 344.4,53.4 345.2,50.6 346.0,51.4 346.8,48.1 347.6,49.2 348.4,47.2 349.2,45.5 349.6,45.4 350.0,45.2 350.8,48.7 351.6,46.7 352.4,49.5 353.0,50.0 354.0,49.9 354.8,51.1 355.6,51.7 356.0,53.0 356.4,55.2 357.2,56.3 358.0,58.6 358.8,59.0 359.0,59.4 359.6,59.6 360.4,60.8 361.2,63.7 362.0,63.1 362.8,62.0 363.6,64.0 364.4,64.2 365.0,64.0 366.0,62.7 366.8,65.1 367.6,63.0 368.4,64.7 369.2,65.6 370.0,64.6 370.0,64.3 370.8,63.2 371.6,67.3 372.4,67.6 373.2,68.8 374.0,70.7 374.0,68.5 374.8,68.7 375.6,69.5 376.4,68.4 377.2,69.6 378.0,67.6 378.8,67.1 379.6,66.6 380.0,66.6 380.4,65.2 381.2,65.0 382.0,63.7 382.8,64.2 383.6,64.2 384.4,66.3 385.2,62.4 386.0,64.3 386.8,63.7 387.6,62.5 388.0,60.9 388.4,60.0 389.2,61.7 390.0,58.9 390.8,60.1 391.6,62.7 392.4,61.9 393.2,62.8 394.0,59.7 394.8,60.2 395.6,58.7 396.0,59.3 396.4,58.5 397.2,58.9 398.0,58.9 398.8,56.0 399.6,58.4 400.4,54.8 401.2,53.4 402.0,54.5 402.8,53.4 403.0,51.4 403.6,50.8 404.4,53.0 405.2,54.2 406.0,55.4 406.8,55.2 407.6,55.9 408.0,56.9 408.4,58.3 409.2,57.6 410.0,60.6 410.8,60.4 411.6,61.5 412.4,61.6 413.2,62.1 414.0,63.2 414.8,63.6 415.0,65.3 415.6,62.9 416.4,64.1 417.2,61.8 418.0,58.4 418.8,55.2 419.6,55.5 420.0,54.2 420.4,54.3 421.2,52.1 422.0,48.2 422.8,46.8 423.6,45.1 424.4,43.3 425.0,43.2 426.0,43.0 426.8,44.9 427.6,46.5 428.4,50.1 429.0,50.1 430.0,52.2 430.8,55.9 431.6,57.0 432.4,58.7 433.0,56.7 434.0,55.6 434.8,54.0 435.6,52.4 436.4,49.7 437.2,43.7 438.0,44.3 438.0,45.1 438.8,40.3 439.6,36.6 440.4,32.6 441.2,29.7 442.0,26.4 442.8,20.4 443.0,19.6 443.6,15.2 444.4,13.8 445.2,8.5 446.0,8.8 446.0,9.5 446.8,9.2 447.6,14.0 448.4,16.6 449.0,19.9 450.0,24.9 450.8,30.7 451.6,34.5 452.0,34.2 452.4,33.4 453.2,33.6 454.0,31.9 454.8,29.4 455.6,28.0 456.0,27.2 456.4,26.8 457.2,28.4 458.0,32.3 458.8,36.4 459.0,37.5 459.6,42.3 460.4,46.8 461.2,53.0 462.0,59.6 462.0,60.0 462.8,64.1 463.6,68.7 464.4,72.3 465.0,73.3 466.0,76.6 466.8,78.2 467.6,78.2 468.4,79.0 469.0,78.8 470.0,80.0 470.8,82.8 471.6,79.9 472.0,79.6 472.4,79.1 473.2,76.9 474.0,77.1 474.8,77.5 475.0,78.0 475.6,74.5 476.4,74.8 477.2,72.6 478.0,69.7 478.0,71.0 478.8,71.2 479.6,73.7 480.4,74.1 481.0,74.7 482.0,77.1 482.8,78.1 483.5,80.0 484.4,81.9 485.2,84.0 486.0,87.3 486.0,85.2 486.8,87.0 487.6,89.7 488.4,91.6 489.2,92.0 490.0,94.8 490.0,94.2 490.8,93.5 491.6,94.8 492.4,92.9 493.2,96.7 494.0,95.8 494.8,95.5 495.6,94.9 496.0,95.3 496.4,94.3 497.2,97.5 498.0,97.8 498.8,97.9 499.6,94.9 500.4,97.3 501.0,95.4 502.0,93.7 502.8,96.8 503.6,97.5 504.4,96.4 505.2,96.0 506.0,95.1 506.0,95.8 506.8,96.0 507.6,96.6 508.4,93.5 509.2,96.0 510.0,95.7 510.8,95.4 511.6,94.3 512.0,95.1 512.4,95.4 513.2,96.3 514.0,95.0 514.8,94.6 515.6,97.1 516.4,95.9 517.2,98.0 518.0,96.5 518.0,97.0 518.8,95.8 519.6,97.7 520.4,95.8 521.2,98.1 522.0,96.2 522.8,97.1 523.6,95.4 524.0,93.9 524.4,93.2 525.2,91.2 526.0,91.7 526.8,89.5 527.6,87.8 528.4,85.1 528.4,89.2 529.2,88.9 530.0,86.7 530.8,90.7 531.6,90.8 532.4,91.5 533.0,93.0 534.0,93.6 534.8,92.0 535.6,91.9 536.4,95.9 537.2,92.4 538.0,93.6 538.0,94.3 538.8,94.6 539.6,93.1 540.4,92.7 541.2,92.8 542.0,94.6 542.8,92.4 543.6,92.7 544.0,92.3 544.4,91.8 545.2,92.7 546.0,92.7 546.8,93.5 547.6,92.4 548.4,93.8 549.2,90.8 550.0,92.2 550.0,90.9 550.8,90.9 551.6,88.7 552.4,87.0 553.2,84.3 554.0,84.4 554.0,83.5 554.8,82.7 555.6,85.1 556.4,85.2 557.0,83.8 558.0,89.1 558.8,89.9 559.6,92.5 559.6,92.2 560.4,95.5 561.2,96.2 562.0,95.1 562.8,95.6 563.6,96.8 564.0,96.5 564.4,98.0 565.2,97.4 566.0,97.6 566.8,99.3 567.6,98.8 568.4,99.6 569.2,96.8 570.0,98.4 570.8,97.9 571.6,99.7 572.0,99.6 572.4,99.3 573.2,99.6 574.0,97.0 574.8,97.5 575.6,99.0 576.4,98.7 577.2,100.6 578.0,98.8 578.0,98.2 578.8,98.7 579.6,97.6 580.4,98.9 581.2,99.2 582.0,99.4 582.8,101.0 583.6,101.3 584.4,102.2 585.2,102.2 586.0,102.3 586.0,104.2 586.8,101.3 587.6,101.0 588.4,101.0 589.2,100.6 590.0,100.3 590.8,98.9 591.6,100.4 592.0,99.4 592.4,96.3 593.2,97.2 594.0,96.2 594.8,96.4 595.6,95.5 596.4,97.1 597.2,95.0 598.0,95.2 598.0,94.0 598.8,96.3 599.6,93.5 600.4,93.4 601.2,93.0 602.0,94.6 602.8,92.4 603.6,91.5 604.0,91.8 604.4,91.8 605.2,93.3 606.0,91.8 606.8,92.1 607.6,90.4 608.4,91.8 609.2,90.0 610.0,90.2 610.0,88.7 610.8,90.2 611.6,90.2 612.4,92.6 613.2,92.0 614.0,92.0 614.8,94.0 615.6,93.2 616.0,92.7 616.4,94.1 617.2,94.8 618.0,94.0 618.8,94.6 619.6,94.6 620.4,93.9 621.2,94.8 622.0,96.8 622.8,96.4 623.6,94.9 624.0,96.7 624.4,96.2 625.2,97.9 626.0,97.8 626.8,100.1 627.6,101.9 628.4,103.3 629.2,101.4 630.0,101.6 630.8,101.7 631.6,105.3 632.0,104.9 632.4,103.9 633.2,104.7 634.0,106.3 634.8,108.0 635.6,106.8 636.4,108.3 637.2,110.0 638.0,112.0 638.8,110.9 639.0,111.7 639.6,113.2 640.4,113.1 641.2,114.7 642.0,113.1 642.8,115.6 643.6,115.3 644.4,116.7 645.2,116.4 646.0,117.8 646.0,116.8 646.8,118.3 647.6,119.3 648.4,120.7 649.2,119.3 650.0,119.0 650.8,122.4 651.6,121.8 652.4,121.5 653.2,120.5 654.0,122.3 654.0,120.1 654.8,121.4 655.6,122.7 656.4,122.4 657.2,124.4 658.0,125.7 658.8,126.4 659.6,126.1 660.4,123.3 661.2,124.8 662.0,127.0 662.0,126.5 662.8,124.9 663.6,126.0 664.4,125.1 665.2,126.8 666.0,125.6 666.8,125.4 667.6,125.6 668.4,125.5 669.2,125.2 670.0,125.5 670.0,124.2 670.8,126.2 671.6,125.7 672.4,124.5 673.2,124.5 674.0,124.7 674.8,125.1 675.6,126.0 676.4,124.7 677.2,125.3 678.0,125.5 678.0,125.5 678.8,124.7 679.6,124.2 680.4,125.1 681.2,125.9 682.0,125.2 682.8,124.9 683.6,123.7 684.4,124.8 685.2,122.7 686.0,124.6 686.0,119.3 686.8,122.4 687.6,121.5 688.4,122.6 689.2,120.1 690.0,121.3 690.8,120.0 691.6,118.3 692.4,121.3 693.0,117.8 694.0,118.6 694.8,119.0 695.6,120.3 696.4,120.8 697.2,122.1 698.0,121.9 698.0,122.2 698.8,122.8 699.6,126.0 700.4,124.4 701.2,125.2 702.0,126.6 702.8,124.2 703.6,128.5 704.0,126.2 704.4,125.6 705.2,126.9 706.0,125.8 706.8,125.6 707.6,125.6 708.4,127.0 709.2,126.6 710.0,130.1 710.0,129.5 710.8,128.0 711.6,129.0 712.4,128.9 713.2,128.7 714.0,127.8 714.8,128.6 715.6,129.6 716.4,130.0 717.2,129.2 717.6,129.4"/>
<path d="M92.0 4.4v9 M92.0 487.3v-9 M248.4 4.4v9 M248.4 487.3v-9 M404.8 4.4v9 M404.8 487.3v-9 M561.3 4.4v9 M561.3 487.3v-9 M170.2 4.4v5 M170.2 487.3v-5 M326.6 4.4v5 M326.6 487.3v-5 M483.1 4.4v5 M483.1 487.3v-5 M639.5 4.4v5 M639.5 487.3v-5 M60.6 28.5h5 M717.7 28.5h-5 M60.6 52.7h9 M717.7 52.7h-9 M60.6 76.8h5 M717.7 76.8h-5 M60.6 101.0h9 M717.7 101.0h-9 M60.6 125.1h5 M717.7 125.1h-5 M60.6 149.3h9 M717.7 149.3h-9 M60.6 173.4h5 M717.7 173.4h-5 M60.6 197.6h9 M717.7 197.6h-9 M60.6 221.7h5 M717.7 221.7h-5 M60.6 245.9h9 M717.7 245.9h-9 M60.6 270.0h5 M717.7 270.0h-5 M60.6 294.1h9 M717.7 294.1h-9 M60.6 318.3h5 M717.7 318.3h-5 M60.6 342.4h9 M717.7 342.4h-9 M60.6 366.6h5 M717.7 366.6h-5 M60.6 390.7h9 M717.7 390.7h-9 M60.6 414.9h5 M717.7 414.9h-5 M60.6 439.0h9 M717.7 439.0h-9 M60.6 463.2h5 M717.7 463.2h-5" stroke="#000" stroke-width="1.8" fill="none"/>
<rect x="60.6" y="4.4" width="657.1" height="482.9" fill="none" stroke="#000" stroke-width="2"/>
<path d="M104.9 444.2V468 M102.1 444.2h5.6 M102.1 468h5.6" stroke="#000" stroke-width="1.4" fill="none"/>
<text transform="translate(111.6 463.3) scale(1.045 1)" font-family="'Liberation Sans', sans-serif" font-size="20.5" font-weight="bold" fill="#000">1000 counts</text>
<text transform="translate(659.7 99.3) scale(1.045 1)" font-family="'Liberation Sans', sans-serif" font-size="20.6" font-weight="bold" fill="#000">48 h</text>
<text transform="translate(659.7 168.6) scale(1.045 1)" font-family="'Liberation Sans', sans-serif" font-size="20.6" font-weight="bold" fill="#000">24 h</text>
<text transform="translate(659.7 237.5) scale(1.045 1)" font-family="'Liberation Sans', sans-serif" font-size="20.6" font-weight="bold" fill="#000">480'</text>
<text transform="translate(659.7 293.0) scale(1.045 1)" font-family="'Liberation Sans', sans-serif" font-size="20.6" font-weight="bold" fill="#000">240'</text>
<text transform="translate(659.7 342.0) scale(1.045 1)" font-family="'Liberation Sans', sans-serif" font-size="20.6" font-weight="bold" fill="#000">120'</text>
<text transform="translate(659.7 395.5) scale(1.045 1)" font-family="'Liberation Sans', sans-serif" font-size="20.6" font-weight="bold" fill="#000">60'</text>
<text transform="translate(659.7 455.2) scale(1.045 1)" font-family="'Liberation Sans', sans-serif" font-size="20.6" font-weight="bold" fill="#000">0'</text>
<text x="92.9" y="522.4" font-family="'Liberation Sans', sans-serif" font-size="31" text-anchor="middle" fill="#000">1000</text>
<text x="249.3" y="522.4" font-family="'Liberation Sans', sans-serif" font-size="31" text-anchor="middle" fill="#000">1200</text>
<text x="405.7" y="522.4" font-family="'Liberation Sans', sans-serif" font-size="31" text-anchor="middle" fill="#000">1400</text>
<text x="562.2" y="522.4" font-family="'Liberation Sans', sans-serif" font-size="31" text-anchor="middle" fill="#000">1600</text>
<text x="718.4" y="522.4" font-family="'Liberation Sans', sans-serif" font-size="31" text-anchor="middle" fill="#000">1800</text>
<text x="217.6" y="562.6" font-family="'Liberation Sans', sans-serif" font-size="42.4" fill="#000">Raman Shift (cm<tspan font-size="24" dx="-10.5" dy="-17.8">-</tspan><tspan font-size="25" dx="0.5" dy="1.8">1</tspan><tspan dy="16" dx="3.2">)</tspan></text>
<text transform="translate(33.1 381.8) rotate(-90)" font-family="'Liberation Sans', sans-serif" font-size="42.1" fill="#000">SERS Intensity</text>
</svg>
</body></html>
